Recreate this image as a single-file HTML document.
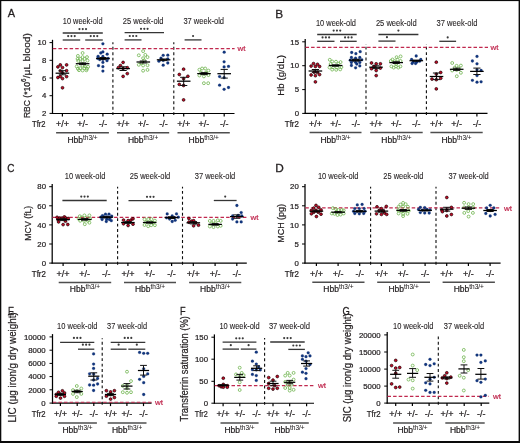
<!DOCTYPE html>
<html><head><meta charset="utf-8"><style>
html,body{margin:0;padding:0;background:#fff;}
body{width:520px;height:443px;overflow:hidden;position:relative;}
svg{position:absolute;left:0;top:0;font-family:"Liberation Sans", sans-serif;will-change:transform;}
text{stroke-width:0.22px;}
</style></head><body>
<svg width="520" height="443" viewBox="0 0 520 443">
<rect x="0" y="0" width="520" height="443" fill="#fff"/>
<line x1="52.50" y1="39.80" x2="52.50" y2="114.00" stroke="#000" stroke-width="1.25"/>
<line x1="49.50" y1="42.60" x2="52.50" y2="42.60" stroke="#000" stroke-width="1.0"/>
<text x="46.30" y="45.30" font-size="7.8" text-anchor="end" fill="#231f20" stroke="#231f20">10</text>
<line x1="49.50" y1="60.30" x2="52.50" y2="60.30" stroke="#000" stroke-width="1.0"/>
<text x="46.30" y="63.00" font-size="7.8" text-anchor="end" fill="#231f20" stroke="#231f20">8</text>
<line x1="49.50" y1="78.00" x2="52.50" y2="78.00" stroke="#000" stroke-width="1.0"/>
<text x="46.30" y="80.70" font-size="7.8" text-anchor="end" fill="#231f20" stroke="#231f20">6</text>
<line x1="49.50" y1="95.70" x2="52.50" y2="95.70" stroke="#000" stroke-width="1.0"/>
<text x="46.30" y="98.40" font-size="7.8" text-anchor="end" fill="#231f20" stroke="#231f20">4</text>
<line x1="49.50" y1="113.40" x2="52.50" y2="113.40" stroke="#000" stroke-width="1.0"/>
<text x="46.30" y="116.10" font-size="7.8" text-anchor="end" fill="#231f20" stroke="#231f20">2</text>
<line x1="51.90" y1="113.50" x2="234.50" y2="113.50" stroke="#000" stroke-width="1.15"/>
<line x1="62.40" y1="113.50" x2="62.40" y2="116.50" stroke="#000" stroke-width="1.2"/>
<line x1="82.60" y1="113.50" x2="82.60" y2="116.50" stroke="#000" stroke-width="1.2"/>
<line x1="102.90" y1="113.50" x2="102.90" y2="116.50" stroke="#000" stroke-width="1.2"/>
<line x1="123.10" y1="113.50" x2="123.10" y2="116.50" stroke="#000" stroke-width="1.2"/>
<line x1="143.30" y1="113.50" x2="143.30" y2="116.50" stroke="#000" stroke-width="1.2"/>
<line x1="163.60" y1="113.50" x2="163.60" y2="116.50" stroke="#000" stroke-width="1.2"/>
<line x1="183.70" y1="113.50" x2="183.70" y2="116.50" stroke="#000" stroke-width="1.2"/>
<line x1="204.00" y1="113.50" x2="204.00" y2="116.50" stroke="#000" stroke-width="1.2"/>
<line x1="224.20" y1="113.50" x2="224.20" y2="116.50" stroke="#000" stroke-width="1.2"/>
<line x1="112.90" y1="115.10" x2="112.90" y2="42.30" stroke="#0c0c0c" stroke-width="1.1" stroke-dasharray="2.9,2.55"/>
<line x1="173.80" y1="115.10" x2="173.80" y2="42.30" stroke="#0c0c0c" stroke-width="1.1" stroke-dasharray="2.9,2.55"/>
<line x1="52.80" y1="48.60" x2="234.60" y2="48.60" stroke="#c0284e" stroke-width="1.1" stroke-dasharray="3.5,2.1"/>
<text x="237.50" y="51.20" font-size="8.0" fill="#c0284e" stroke="#c0284e">wt</text>
<text x="62.80" y="24.00" font-size="8.8" textLength="39.80" lengthAdjust="spacingAndGlyphs" fill="#231f20" stroke="#231f20" style="stroke-width:0.1px">10 week-old</text>
<text x="122.70" y="24.00" font-size="8.8" textLength="40.80" lengthAdjust="spacingAndGlyphs" fill="#231f20" stroke="#231f20" style="stroke-width:0.1px">25 week-old</text>
<text x="183.40" y="24.00" font-size="8.8" textLength="40.60" lengthAdjust="spacingAndGlyphs" fill="#231f20" stroke="#231f20" style="stroke-width:0.1px">37 week-old</text>
<line x1="62.70" y1="33.00" x2="102.80" y2="33.00" stroke="#353535" stroke-width="1.3"/>
<circle cx="79.47" cy="29.10" r="1.08" fill="#3a3a3a"/>
<circle cx="82.75" cy="29.10" r="1.08" fill="#3a3a3a"/>
<circle cx="86.03" cy="29.10" r="1.08" fill="#3a3a3a"/>
<line x1="62.70" y1="40.00" x2="80.20" y2="40.00" stroke="#353535" stroke-width="1.3"/>
<circle cx="68.17" cy="36.10" r="1.08" fill="#3a3a3a"/>
<circle cx="71.45" cy="36.10" r="1.08" fill="#3a3a3a"/>
<circle cx="74.73" cy="36.10" r="1.08" fill="#3a3a3a"/>
<line x1="85.20" y1="40.00" x2="102.80" y2="40.00" stroke="#353535" stroke-width="1.3"/>
<circle cx="90.72" cy="36.10" r="1.08" fill="#3a3a3a"/>
<circle cx="94.00" cy="36.10" r="1.08" fill="#3a3a3a"/>
<circle cx="97.28" cy="36.10" r="1.08" fill="#3a3a3a"/>
<line x1="124.60" y1="32.70" x2="164.00" y2="32.70" stroke="#353535" stroke-width="1.3"/>
<circle cx="141.02" cy="28.80" r="1.08" fill="#3a3a3a"/>
<circle cx="144.30" cy="28.80" r="1.08" fill="#3a3a3a"/>
<circle cx="147.58" cy="28.80" r="1.08" fill="#3a3a3a"/>
<line x1="124.60" y1="39.90" x2="141.50" y2="39.90" stroke="#353535" stroke-width="1.3"/>
<circle cx="129.77" cy="36.00" r="1.08" fill="#3a3a3a"/>
<circle cx="133.05" cy="36.00" r="1.08" fill="#3a3a3a"/>
<circle cx="136.33" cy="36.00" r="1.08" fill="#3a3a3a"/>
<line x1="184.60" y1="39.90" x2="201.50" y2="39.90" stroke="#353535" stroke-width="1.3"/>
<circle cx="193.05" cy="36.00" r="1.08" fill="#3a3a3a"/>
<text x="7.70" y="17.30" font-size="11.8" textLength="7.30" lengthAdjust="spacingAndGlyphs" fill="#231f20" stroke="#231f20" style="stroke-width:0.3px">A</text>
<text x="32.10" y="126.80" font-size="8.3" textLength="13.50" lengthAdjust="spacingAndGlyphs" fill="#231f20" stroke="#231f20">Tfr2</text>
<text x="62.40" y="126.80" font-size="9.0" text-anchor="middle" fill="#231f20" stroke="#231f20">+/+</text>
<text x="82.60" y="126.80" font-size="9.0" text-anchor="middle" fill="#231f20" stroke="#231f20">+/-</text>
<text x="102.90" y="126.80" font-size="9.0" text-anchor="middle" fill="#231f20" stroke="#231f20">-/-</text>
<text x="123.10" y="126.80" font-size="9.0" text-anchor="middle" fill="#231f20" stroke="#231f20">+/+</text>
<text x="143.30" y="126.80" font-size="9.0" text-anchor="middle" fill="#231f20" stroke="#231f20">+/-</text>
<text x="163.60" y="126.80" font-size="9.0" text-anchor="middle" fill="#231f20" stroke="#231f20">-/-</text>
<text x="183.70" y="126.80" font-size="9.0" text-anchor="middle" fill="#231f20" stroke="#231f20">+/+</text>
<text x="204.00" y="126.80" font-size="9.0" text-anchor="middle" fill="#231f20" stroke="#231f20">+/-</text>
<text x="224.20" y="126.80" font-size="9.0" text-anchor="middle" fill="#231f20" stroke="#231f20">-/-</text>
<line x1="56.10" y1="132.70" x2="108.90" y2="132.70" stroke="#4e4e4e" stroke-width="1.5"/>
<text x="82.50" y="142.70" font-size="8.5" text-anchor="middle" fill="#231f20" stroke="#231f20">Hbb<tspan font-size="6.5" dy="-3.0" style="stroke-width:0.05px">th3/+</tspan></text>
<line x1="117.00" y1="132.70" x2="169.20" y2="132.70" stroke="#4e4e4e" stroke-width="1.5"/>
<text x="143.10" y="142.70" font-size="8.5" text-anchor="middle" fill="#231f20" stroke="#231f20">Hbb<tspan font-size="6.5" dy="-3.0" style="stroke-width:0.05px">th3/+</tspan></text>
<line x1="177.50" y1="132.70" x2="229.80" y2="132.70" stroke="#4e4e4e" stroke-width="1.5"/>
<text x="203.65" y="142.70" font-size="8.5" text-anchor="middle" fill="#231f20" stroke="#231f20">Hbb<tspan font-size="6.5" dy="-3.0" style="stroke-width:0.05px">th3/+</tspan></text>
<g transform="translate(30.00 118.10) rotate(-90)"><text x="0" y="0.00" font-size="9.6" fill="#231f20" stroke="#231f20" textLength="36.10" lengthAdjust="spacingAndGlyphs">RBC (*10</text></g>
<g transform="translate(30.00 81.90) rotate(-90)"><text x="0" y="-3.60" font-size="6.8" fill="#231f20" stroke="#231f20" textLength="3.50" lengthAdjust="spacingAndGlyphs">6</text></g>
<g transform="translate(30.00 78.30) rotate(-90)"><text x="0" y="0.00" font-size="9.6" fill="#231f20" stroke="#231f20" textLength="45.20" lengthAdjust="spacingAndGlyphs">/μL blood)</text></g>
<circle cx="60.30" cy="64.90" r="1.4" fill="#c40a26" stroke="#1a0003" stroke-width="0.7"/>
<circle cx="57.90" cy="66.90" r="1.4" fill="#c40a26" stroke="#1a0003" stroke-width="0.7"/>
<circle cx="62.50" cy="67.60" r="1.4" fill="#c40a26" stroke="#1a0003" stroke-width="0.7"/>
<circle cx="66.60" cy="64.90" r="1.4" fill="#c40a26" stroke="#1a0003" stroke-width="0.7"/>
<circle cx="66.60" cy="70.70" r="1.4" fill="#c40a26" stroke="#1a0003" stroke-width="0.7"/>
<circle cx="62.50" cy="72.80" r="1.4" fill="#c40a26" stroke="#1a0003" stroke-width="0.7"/>
<circle cx="60.30" cy="70.80" r="1.4" fill="#c40a26" stroke="#1a0003" stroke-width="0.7"/>
<circle cx="57.90" cy="77.50" r="1.4" fill="#c40a26" stroke="#1a0003" stroke-width="0.7"/>
<circle cx="60.30" cy="76.50" r="1.4" fill="#c40a26" stroke="#1a0003" stroke-width="0.7"/>
<circle cx="62.50" cy="78.60" r="1.4" fill="#c40a26" stroke="#1a0003" stroke-width="0.7"/>
<circle cx="66.60" cy="76.60" r="1.4" fill="#c40a26" stroke="#1a0003" stroke-width="0.7"/>
<circle cx="62.50" cy="87.80" r="1.4" fill="#c40a26" stroke="#1a0003" stroke-width="0.7"/>
<line x1="62.40" y1="70.70" x2="62.40" y2="74.80" stroke="#111" stroke-width="1.0"/>
<line x1="58.80" y1="70.70" x2="66.00" y2="70.70" stroke="#111" stroke-width="1.0"/>
<line x1="58.80" y1="74.80" x2="66.00" y2="74.80" stroke="#111" stroke-width="1.0"/>
<line x1="55.60" y1="73.20" x2="69.20" y2="73.20" stroke="#000" stroke-width="1.25"/>
<circle cx="82.60" cy="53.00" r="1.45" fill="none" stroke="#6fb44e" stroke-width="0.8"/>
<circle cx="77.90" cy="55.90" r="1.45" fill="none" stroke="#6fb44e" stroke-width="0.8"/>
<circle cx="82.60" cy="57.10" r="1.45" fill="none" stroke="#6fb44e" stroke-width="0.8"/>
<circle cx="87.00" cy="57.10" r="1.45" fill="none" stroke="#6fb44e" stroke-width="0.8"/>
<circle cx="77.60" cy="58.90" r="1.45" fill="none" stroke="#6fb44e" stroke-width="0.8"/>
<circle cx="80.20" cy="58.90" r="1.45" fill="none" stroke="#6fb44e" stroke-width="0.8"/>
<circle cx="84.60" cy="58.90" r="1.45" fill="none" stroke="#6fb44e" stroke-width="0.8"/>
<circle cx="87.50" cy="60.60" r="1.45" fill="none" stroke="#6fb44e" stroke-width="0.8"/>
<circle cx="78.20" cy="60.90" r="1.45" fill="none" stroke="#6fb44e" stroke-width="0.8"/>
<circle cx="82.60" cy="61.20" r="1.45" fill="none" stroke="#6fb44e" stroke-width="0.8"/>
<circle cx="76.70" cy="66.50" r="1.45" fill="none" stroke="#6fb44e" stroke-width="0.8"/>
<circle cx="82.60" cy="65.60" r="1.45" fill="none" stroke="#6fb44e" stroke-width="0.8"/>
<circle cx="84.90" cy="66.20" r="1.45" fill="none" stroke="#6fb44e" stroke-width="0.8"/>
<circle cx="88.10" cy="66.80" r="1.45" fill="none" stroke="#6fb44e" stroke-width="0.8"/>
<circle cx="77.90" cy="68.80" r="1.45" fill="none" stroke="#6fb44e" stroke-width="0.8"/>
<circle cx="80.20" cy="68.20" r="1.45" fill="none" stroke="#6fb44e" stroke-width="0.8"/>
<circle cx="84.30" cy="68.20" r="1.45" fill="none" stroke="#6fb44e" stroke-width="0.8"/>
<circle cx="87.00" cy="68.80" r="1.45" fill="none" stroke="#6fb44e" stroke-width="0.8"/>
<circle cx="79.00" cy="70.20" r="1.45" fill="none" stroke="#6fb44e" stroke-width="0.8"/>
<circle cx="82.60" cy="70.50" r="1.45" fill="none" stroke="#6fb44e" stroke-width="0.8"/>
<circle cx="86.40" cy="70.30" r="1.45" fill="none" stroke="#6fb44e" stroke-width="0.8"/>
<line x1="82.60" y1="62.90" x2="82.60" y2="64.60" stroke="#111" stroke-width="1.0"/>
<line x1="79.00" y1="62.90" x2="86.20" y2="62.90" stroke="#111" stroke-width="1.0"/>
<line x1="79.00" y1="64.60" x2="86.20" y2="64.60" stroke="#111" stroke-width="1.0"/>
<line x1="75.80" y1="63.70" x2="89.40" y2="63.70" stroke="#000" stroke-width="1.25"/>
<circle cx="102.90" cy="43.80" r="1.4" fill="#123780" stroke="#0d2a66" stroke-width="0.25"/>
<circle cx="100.80" cy="53.00" r="1.4" fill="#123780" stroke="#0d2a66" stroke-width="0.25"/>
<circle cx="102.90" cy="51.90" r="1.4" fill="#123780" stroke="#0d2a66" stroke-width="0.25"/>
<circle cx="107.20" cy="54.20" r="1.4" fill="#123780" stroke="#0d2a66" stroke-width="0.25"/>
<circle cx="98.10" cy="56.30" r="1.4" fill="#123780" stroke="#0d2a66" stroke-width="0.25"/>
<circle cx="102.90" cy="56.50" r="1.4" fill="#123780" stroke="#0d2a66" stroke-width="0.25"/>
<circle cx="97.80" cy="58.40" r="1.4" fill="#123780" stroke="#0d2a66" stroke-width="0.25"/>
<circle cx="108.10" cy="58.40" r="1.4" fill="#123780" stroke="#0d2a66" stroke-width="0.25"/>
<circle cx="99.70" cy="59.60" r="1.4" fill="#123780" stroke="#0d2a66" stroke-width="0.25"/>
<circle cx="102.90" cy="59.30" r="1.4" fill="#123780" stroke="#0d2a66" stroke-width="0.25"/>
<circle cx="107.00" cy="60.70" r="1.4" fill="#123780" stroke="#0d2a66" stroke-width="0.25"/>
<circle cx="102.90" cy="62.40" r="1.4" fill="#123780" stroke="#0d2a66" stroke-width="0.25"/>
<circle cx="98.50" cy="65.70" r="1.4" fill="#123780" stroke="#0d2a66" stroke-width="0.25"/>
<circle cx="102.90" cy="66.70" r="1.4" fill="#123780" stroke="#0d2a66" stroke-width="0.25"/>
<circle cx="102.90" cy="71.10" r="1.4" fill="#123780" stroke="#0d2a66" stroke-width="0.25"/>
<line x1="102.90" y1="57.50" x2="102.90" y2="59.60" stroke="#111" stroke-width="1.0"/>
<line x1="99.30" y1="57.50" x2="106.50" y2="57.50" stroke="#111" stroke-width="1.0"/>
<line x1="99.30" y1="59.60" x2="106.50" y2="59.60" stroke="#111" stroke-width="1.0"/>
<line x1="96.10" y1="58.50" x2="109.70" y2="58.50" stroke="#000" stroke-width="1.25"/>
<circle cx="123.10" cy="62.40" r="1.4" fill="#c40a26" stroke="#1a0003" stroke-width="0.7"/>
<circle cx="120.40" cy="65.60" r="1.4" fill="#c40a26" stroke="#1a0003" stroke-width="0.7"/>
<circle cx="118.40" cy="67.70" r="1.4" fill="#c40a26" stroke="#1a0003" stroke-width="0.7"/>
<circle cx="123.10" cy="68.40" r="1.4" fill="#c40a26" stroke="#1a0003" stroke-width="0.7"/>
<circle cx="127.30" cy="67.70" r="1.4" fill="#c40a26" stroke="#1a0003" stroke-width="0.7"/>
<circle cx="127.30" cy="73.60" r="1.4" fill="#c40a26" stroke="#1a0003" stroke-width="0.7"/>
<circle cx="123.10" cy="76.40" r="1.4" fill="#c40a26" stroke="#1a0003" stroke-width="0.7"/>
<line x1="123.10" y1="66.80" x2="123.10" y2="70.50" stroke="#111" stroke-width="1.0"/>
<line x1="119.50" y1="66.80" x2="126.70" y2="66.80" stroke="#111" stroke-width="1.0"/>
<line x1="119.50" y1="70.50" x2="126.70" y2="70.50" stroke="#111" stroke-width="1.0"/>
<line x1="116.30" y1="68.60" x2="129.90" y2="68.60" stroke="#000" stroke-width="1.25"/>
<circle cx="143.10" cy="51.10" r="1.45" fill="none" stroke="#6fb44e" stroke-width="0.8"/>
<circle cx="138.80" cy="55.30" r="1.45" fill="none" stroke="#6fb44e" stroke-width="0.8"/>
<circle cx="145.30" cy="54.90" r="1.45" fill="none" stroke="#6fb44e" stroke-width="0.8"/>
<circle cx="147.50" cy="57.10" r="1.45" fill="none" stroke="#6fb44e" stroke-width="0.8"/>
<circle cx="143.10" cy="58.20" r="1.45" fill="none" stroke="#6fb44e" stroke-width="0.8"/>
<circle cx="144.20" cy="60.40" r="1.45" fill="none" stroke="#6fb44e" stroke-width="0.8"/>
<circle cx="138.80" cy="64.80" r="1.45" fill="none" stroke="#6fb44e" stroke-width="0.8"/>
<circle cx="143.10" cy="65.50" r="1.45" fill="none" stroke="#6fb44e" stroke-width="0.8"/>
<circle cx="147.50" cy="65.20" r="1.45" fill="none" stroke="#6fb44e" stroke-width="0.8"/>
<circle cx="143.10" cy="70.70" r="1.45" fill="none" stroke="#6fb44e" stroke-width="0.8"/>
<circle cx="147.50" cy="69.90" r="1.45" fill="none" stroke="#6fb44e" stroke-width="0.8"/>
<circle cx="141.30" cy="63.20" r="1.45" fill="none" stroke="#6fb44e" stroke-width="0.8"/>
<line x1="143.30" y1="61.00" x2="143.30" y2="63.00" stroke="#111" stroke-width="1.0"/>
<line x1="139.70" y1="61.00" x2="146.90" y2="61.00" stroke="#111" stroke-width="1.0"/>
<line x1="139.70" y1="63.00" x2="146.90" y2="63.00" stroke="#111" stroke-width="1.0"/>
<line x1="136.50" y1="62.00" x2="150.10" y2="62.00" stroke="#000" stroke-width="1.25"/>
<circle cx="163.20" cy="55.30" r="1.4" fill="#123780" stroke="#0d2a66" stroke-width="0.25"/>
<circle cx="167.80" cy="55.20" r="1.4" fill="#123780" stroke="#0d2a66" stroke-width="0.25"/>
<circle cx="161.00" cy="58.20" r="1.4" fill="#123780" stroke="#0d2a66" stroke-width="0.25"/>
<circle cx="158.90" cy="61.20" r="1.4" fill="#123780" stroke="#0d2a66" stroke-width="0.25"/>
<circle cx="167.80" cy="59.00" r="1.4" fill="#123780" stroke="#0d2a66" stroke-width="0.25"/>
<circle cx="163.20" cy="60.40" r="1.4" fill="#123780" stroke="#0d2a66" stroke-width="0.25"/>
<circle cx="167.80" cy="63.00" r="1.4" fill="#123780" stroke="#0d2a66" stroke-width="0.25"/>
<circle cx="163.20" cy="65.20" r="1.4" fill="#123780" stroke="#0d2a66" stroke-width="0.25"/>
<line x1="163.60" y1="59.00" x2="163.60" y2="60.60" stroke="#111" stroke-width="1.0"/>
<line x1="160.00" y1="59.00" x2="167.20" y2="59.00" stroke="#111" stroke-width="1.0"/>
<line x1="160.00" y1="60.60" x2="167.20" y2="60.60" stroke="#111" stroke-width="1.0"/>
<line x1="156.80" y1="59.80" x2="170.40" y2="59.80" stroke="#000" stroke-width="1.25"/>
<circle cx="183.60" cy="69.20" r="1.4" fill="#c40a26" stroke="#1a0003" stroke-width="0.7"/>
<circle cx="179.30" cy="74.50" r="1.4" fill="#c40a26" stroke="#1a0003" stroke-width="0.7"/>
<circle cx="187.90" cy="76.30" r="1.4" fill="#c40a26" stroke="#1a0003" stroke-width="0.7"/>
<circle cx="183.60" cy="78.70" r="1.4" fill="#c40a26" stroke="#1a0003" stroke-width="0.7"/>
<circle cx="179.30" cy="84.40" r="1.4" fill="#c40a26" stroke="#1a0003" stroke-width="0.7"/>
<circle cx="183.60" cy="85.50" r="1.4" fill="#c40a26" stroke="#1a0003" stroke-width="0.7"/>
<circle cx="183.60" cy="99.90" r="1.4" fill="#c40a26" stroke="#1a0003" stroke-width="0.7"/>
<line x1="183.70" y1="77.30" x2="183.70" y2="85.50" stroke="#111" stroke-width="1.0"/>
<line x1="180.10" y1="77.30" x2="187.30" y2="77.30" stroke="#111" stroke-width="1.0"/>
<line x1="180.10" y1="85.50" x2="187.30" y2="85.50" stroke="#111" stroke-width="1.0"/>
<line x1="176.90" y1="81.20" x2="190.50" y2="81.20" stroke="#000" stroke-width="1.25"/>
<circle cx="199.40" cy="69.70" r="1.45" fill="none" stroke="#6fb44e" stroke-width="0.8"/>
<circle cx="202.10" cy="68.50" r="1.45" fill="none" stroke="#6fb44e" stroke-width="0.8"/>
<circle cx="205.20" cy="68.50" r="1.45" fill="none" stroke="#6fb44e" stroke-width="0.8"/>
<circle cx="208.40" cy="70.60" r="1.45" fill="none" stroke="#6fb44e" stroke-width="0.8"/>
<circle cx="199.40" cy="75.50" r="1.45" fill="none" stroke="#6fb44e" stroke-width="0.8"/>
<circle cx="203.90" cy="76.40" r="1.45" fill="none" stroke="#6fb44e" stroke-width="0.8"/>
<circle cx="208.40" cy="75.10" r="1.45" fill="none" stroke="#6fb44e" stroke-width="0.8"/>
<circle cx="201.00" cy="72.50" r="1.45" fill="none" stroke="#6fb44e" stroke-width="0.8"/>
<circle cx="206.00" cy="72.50" r="1.45" fill="none" stroke="#6fb44e" stroke-width="0.8"/>
<circle cx="203.90" cy="83.20" r="1.45" fill="none" stroke="#6fb44e" stroke-width="0.8"/>
<circle cx="208.20" cy="83.20" r="1.45" fill="none" stroke="#6fb44e" stroke-width="0.8"/>
<line x1="204.00" y1="72.60" x2="204.00" y2="74.60" stroke="#111" stroke-width="1.0"/>
<line x1="200.40" y1="72.60" x2="207.60" y2="72.60" stroke="#111" stroke-width="1.0"/>
<line x1="200.40" y1="74.60" x2="207.60" y2="74.60" stroke="#111" stroke-width="1.0"/>
<line x1="197.20" y1="73.60" x2="210.80" y2="73.60" stroke="#000" stroke-width="1.25"/>
<circle cx="224.20" cy="52.20" r="1.4" fill="#123780" stroke="#0d2a66" stroke-width="0.25"/>
<circle cx="224.10" cy="61.80" r="1.4" fill="#123780" stroke="#0d2a66" stroke-width="0.25"/>
<circle cx="224.10" cy="66.90" r="1.4" fill="#123780" stroke="#0d2a66" stroke-width="0.25"/>
<circle cx="228.50" cy="66.40" r="1.4" fill="#123780" stroke="#0d2a66" stroke-width="0.25"/>
<circle cx="219.60" cy="76.60" r="1.4" fill="#123780" stroke="#0d2a66" stroke-width="0.25"/>
<circle cx="224.10" cy="77.70" r="1.4" fill="#123780" stroke="#0d2a66" stroke-width="0.25"/>
<circle cx="219.60" cy="85.20" r="1.4" fill="#123780" stroke="#0d2a66" stroke-width="0.25"/>
<circle cx="228.50" cy="87.50" r="1.4" fill="#123780" stroke="#0d2a66" stroke-width="0.25"/>
<circle cx="224.10" cy="89.30" r="1.4" fill="#123780" stroke="#0d2a66" stroke-width="0.25"/>
<line x1="224.20" y1="69.40" x2="224.20" y2="78.10" stroke="#111" stroke-width="1.0"/>
<line x1="220.60" y1="69.40" x2="227.80" y2="69.40" stroke="#111" stroke-width="1.0"/>
<line x1="220.60" y1="78.10" x2="227.80" y2="78.10" stroke="#111" stroke-width="1.0"/>
<line x1="217.40" y1="73.70" x2="231.00" y2="73.70" stroke="#000" stroke-width="1.25"/>
<line x1="305.20" y1="39.00" x2="305.20" y2="113.90" stroke="#000" stroke-width="1.25"/>
<line x1="302.20" y1="41.80" x2="305.20" y2="41.80" stroke="#000" stroke-width="1.0"/>
<text x="299.00" y="44.50" font-size="7.8" text-anchor="end" fill="#231f20" stroke="#231f20">15</text>
<line x1="302.20" y1="65.70" x2="305.20" y2="65.70" stroke="#000" stroke-width="1.0"/>
<text x="299.00" y="68.40" font-size="7.8" text-anchor="end" fill="#231f20" stroke="#231f20">10</text>
<line x1="302.20" y1="89.60" x2="305.20" y2="89.60" stroke="#000" stroke-width="1.0"/>
<text x="299.00" y="92.30" font-size="7.8" text-anchor="end" fill="#231f20" stroke="#231f20">5</text>
<line x1="302.20" y1="113.40" x2="305.20" y2="113.40" stroke="#000" stroke-width="1.0"/>
<text x="299.00" y="116.10" font-size="7.8" text-anchor="end" fill="#231f20" stroke="#231f20">0</text>
<line x1="304.60" y1="113.40" x2="487.50" y2="113.40" stroke="#000" stroke-width="1.15"/>
<line x1="315.40" y1="113.40" x2="315.40" y2="116.40" stroke="#000" stroke-width="1.2"/>
<line x1="335.60" y1="113.40" x2="335.60" y2="116.40" stroke="#000" stroke-width="1.2"/>
<line x1="355.80" y1="113.40" x2="355.80" y2="116.40" stroke="#000" stroke-width="1.2"/>
<line x1="376.00" y1="113.40" x2="376.00" y2="116.40" stroke="#000" stroke-width="1.2"/>
<line x1="396.20" y1="113.40" x2="396.20" y2="116.40" stroke="#000" stroke-width="1.2"/>
<line x1="416.30" y1="113.40" x2="416.30" y2="116.40" stroke="#000" stroke-width="1.2"/>
<line x1="436.50" y1="113.40" x2="436.50" y2="116.40" stroke="#000" stroke-width="1.2"/>
<line x1="456.70" y1="113.40" x2="456.70" y2="116.40" stroke="#000" stroke-width="1.2"/>
<line x1="476.90" y1="113.40" x2="476.90" y2="116.40" stroke="#000" stroke-width="1.2"/>
<line x1="366.00" y1="115.00" x2="366.00" y2="44.00" stroke="#0c0c0c" stroke-width="1.1" stroke-dasharray="2.9,2.55"/>
<line x1="426.40" y1="115.00" x2="426.40" y2="44.00" stroke="#0c0c0c" stroke-width="1.1" stroke-dasharray="2.9,2.55"/>
<line x1="305.50" y1="47.40" x2="488.00" y2="47.40" stroke="#c0284e" stroke-width="1.1" stroke-dasharray="3.5,2.1"/>
<text x="490.60" y="50.00" font-size="8.0" fill="#c0284e" stroke="#c0284e">wt</text>
<text x="316.00" y="25.70" font-size="8.8" textLength="39.90" lengthAdjust="spacingAndGlyphs" fill="#231f20" stroke="#231f20" style="stroke-width:0.1px">10 week-old</text>
<text x="375.90" y="25.70" font-size="8.8" textLength="40.70" lengthAdjust="spacingAndGlyphs" fill="#231f20" stroke="#231f20" style="stroke-width:0.1px">25 week-old</text>
<text x="436.60" y="25.70" font-size="8.8" textLength="40.80" lengthAdjust="spacingAndGlyphs" fill="#231f20" stroke="#231f20" style="stroke-width:0.1px">37 week-old</text>
<line x1="317.20" y1="34.50" x2="356.70" y2="34.50" stroke="#353535" stroke-width="1.3"/>
<circle cx="333.67" cy="30.60" r="1.08" fill="#3a3a3a"/>
<circle cx="336.95" cy="30.60" r="1.08" fill="#3a3a3a"/>
<circle cx="340.23" cy="30.60" r="1.08" fill="#3a3a3a"/>
<line x1="317.20" y1="41.30" x2="334.50" y2="41.30" stroke="#353535" stroke-width="1.3"/>
<circle cx="322.57" cy="37.40" r="1.08" fill="#3a3a3a"/>
<circle cx="325.85" cy="37.40" r="1.08" fill="#3a3a3a"/>
<circle cx="329.13" cy="37.40" r="1.08" fill="#3a3a3a"/>
<line x1="340.00" y1="41.30" x2="356.70" y2="41.30" stroke="#353535" stroke-width="1.3"/>
<circle cx="345.07" cy="37.40" r="1.08" fill="#3a3a3a"/>
<circle cx="348.35" cy="37.40" r="1.08" fill="#3a3a3a"/>
<circle cx="351.63" cy="37.40" r="1.08" fill="#3a3a3a"/>
<line x1="378.40" y1="34.50" x2="418.40" y2="34.50" stroke="#353535" stroke-width="1.3"/>
<circle cx="398.40" cy="30.60" r="1.08" fill="#3a3a3a"/>
<line x1="378.40" y1="41.10" x2="395.50" y2="41.10" stroke="#353535" stroke-width="1.3"/>
<circle cx="386.95" cy="37.20" r="1.08" fill="#3a3a3a"/>
<line x1="439.30" y1="41.30" x2="456.10" y2="41.30" stroke="#353535" stroke-width="1.3"/>
<circle cx="447.70" cy="37.40" r="1.08" fill="#3a3a3a"/>
<text x="275.30" y="18.00" font-size="11.8" fill="#231f20" stroke="#231f20" style="stroke-width:0.3px">B</text>
<text x="284.80" y="126.80" font-size="8.3" textLength="14.10" lengthAdjust="spacingAndGlyphs" fill="#231f20" stroke="#231f20">Tfr2</text>
<text x="315.40" y="126.80" font-size="9.0" text-anchor="middle" fill="#231f20" stroke="#231f20">+/+</text>
<text x="335.60" y="126.80" font-size="9.0" text-anchor="middle" fill="#231f20" stroke="#231f20">+/-</text>
<text x="355.80" y="126.80" font-size="9.0" text-anchor="middle" fill="#231f20" stroke="#231f20">-/-</text>
<text x="376.00" y="126.80" font-size="9.0" text-anchor="middle" fill="#231f20" stroke="#231f20">+/+</text>
<text x="396.20" y="126.80" font-size="9.0" text-anchor="middle" fill="#231f20" stroke="#231f20">+/-</text>
<text x="416.30" y="126.80" font-size="9.0" text-anchor="middle" fill="#231f20" stroke="#231f20">-/-</text>
<text x="436.50" y="126.80" font-size="9.0" text-anchor="middle" fill="#231f20" stroke="#231f20">+/+</text>
<text x="456.70" y="126.80" font-size="9.0" text-anchor="middle" fill="#231f20" stroke="#231f20">+/-</text>
<text x="476.90" y="126.80" font-size="9.0" text-anchor="middle" fill="#231f20" stroke="#231f20">-/-</text>
<line x1="309.60" y1="132.60" x2="361.50" y2="132.60" stroke="#4e4e4e" stroke-width="1.5"/>
<text x="335.55" y="142.60" font-size="8.5" text-anchor="middle" fill="#231f20" stroke="#231f20">Hbb<tspan font-size="6.5" dy="-3.0" style="stroke-width:0.05px">th3/+</tspan></text>
<line x1="370.20" y1="132.60" x2="422.70" y2="132.60" stroke="#4e4e4e" stroke-width="1.5"/>
<text x="396.45" y="142.60" font-size="8.5" text-anchor="middle" fill="#231f20" stroke="#231f20">Hbb<tspan font-size="6.5" dy="-3.0" style="stroke-width:0.05px">th3/+</tspan></text>
<line x1="430.40" y1="132.60" x2="482.70" y2="132.60" stroke="#4e4e4e" stroke-width="1.5"/>
<text x="456.55" y="142.60" font-size="8.5" text-anchor="middle" fill="#231f20" stroke="#231f20">Hbb<tspan font-size="6.5" dy="-3.0" style="stroke-width:0.05px">th3/+</tspan></text>
<text x="284.00" y="75.45" font-size="9.8" text-anchor="middle" fill="#231f20" stroke="#231f20" transform="rotate(-90 284.00 75.45)" textLength="40.70" lengthAdjust="spacingAndGlyphs">Hb (g/dL)</text>
<circle cx="313.50" cy="63.60" r="1.4" fill="#c40a26" stroke="#1a0003" stroke-width="0.7"/>
<circle cx="317.50" cy="64.30" r="1.4" fill="#c40a26" stroke="#1a0003" stroke-width="0.7"/>
<circle cx="311.10" cy="66.10" r="1.4" fill="#c40a26" stroke="#1a0003" stroke-width="0.7"/>
<circle cx="315.40" cy="66.50" r="1.4" fill="#c40a26" stroke="#1a0003" stroke-width="0.7"/>
<circle cx="319.60" cy="66.50" r="1.4" fill="#c40a26" stroke="#1a0003" stroke-width="0.7"/>
<circle cx="314.20" cy="72.20" r="1.4" fill="#c40a26" stroke="#1a0003" stroke-width="0.7"/>
<circle cx="317.50" cy="72.40" r="1.4" fill="#c40a26" stroke="#1a0003" stroke-width="0.7"/>
<circle cx="311.10" cy="75.00" r="1.4" fill="#c40a26" stroke="#1a0003" stroke-width="0.7"/>
<circle cx="315.40" cy="75.70" r="1.4" fill="#c40a26" stroke="#1a0003" stroke-width="0.7"/>
<circle cx="319.60" cy="74.60" r="1.4" fill="#c40a26" stroke="#1a0003" stroke-width="0.7"/>
<circle cx="315.40" cy="81.90" r="1.4" fill="#c40a26" stroke="#1a0003" stroke-width="0.7"/>
<line x1="315.40" y1="69.50" x2="315.40" y2="72.30" stroke="#111" stroke-width="1.0"/>
<line x1="311.80" y1="69.50" x2="319.00" y2="69.50" stroke="#111" stroke-width="1.0"/>
<line x1="311.80" y1="72.30" x2="319.00" y2="72.30" stroke="#111" stroke-width="1.0"/>
<line x1="308.60" y1="71.00" x2="322.20" y2="71.00" stroke="#000" stroke-width="1.25"/>
<circle cx="329.80" cy="59.80" r="1.45" fill="none" stroke="#6fb44e" stroke-width="0.8"/>
<circle cx="332.20" cy="61.50" r="1.45" fill="none" stroke="#6fb44e" stroke-width="0.8"/>
<circle cx="336.00" cy="61.70" r="1.45" fill="none" stroke="#6fb44e" stroke-width="0.8"/>
<circle cx="340.60" cy="62.10" r="1.45" fill="none" stroke="#6fb44e" stroke-width="0.8"/>
<circle cx="330.60" cy="64.00" r="1.45" fill="none" stroke="#6fb44e" stroke-width="0.8"/>
<circle cx="338.50" cy="63.80" r="1.45" fill="none" stroke="#6fb44e" stroke-width="0.8"/>
<circle cx="329.50" cy="67.50" r="1.45" fill="none" stroke="#6fb44e" stroke-width="0.8"/>
<circle cx="333.00" cy="67.30" r="1.45" fill="none" stroke="#6fb44e" stroke-width="0.8"/>
<circle cx="337.00" cy="67.50" r="1.45" fill="none" stroke="#6fb44e" stroke-width="0.8"/>
<circle cx="341.40" cy="67.10" r="1.45" fill="none" stroke="#6fb44e" stroke-width="0.8"/>
<circle cx="332.20" cy="69.60" r="1.45" fill="none" stroke="#6fb44e" stroke-width="0.8"/>
<circle cx="336.20" cy="69.80" r="1.45" fill="none" stroke="#6fb44e" stroke-width="0.8"/>
<circle cx="340.20" cy="69.40" r="1.45" fill="none" stroke="#6fb44e" stroke-width="0.8"/>
<line x1="335.60" y1="64.80" x2="335.60" y2="66.20" stroke="#111" stroke-width="1.0"/>
<line x1="332.00" y1="64.80" x2="339.20" y2="64.80" stroke="#111" stroke-width="1.0"/>
<line x1="332.00" y1="66.20" x2="339.20" y2="66.20" stroke="#111" stroke-width="1.0"/>
<line x1="328.80" y1="65.50" x2="342.40" y2="65.50" stroke="#000" stroke-width="1.25"/>
<circle cx="351.70" cy="52.50" r="1.4" fill="#123780" stroke="#0d2a66" stroke-width="0.25"/>
<circle cx="355.90" cy="53.70" r="1.4" fill="#123780" stroke="#0d2a66" stroke-width="0.25"/>
<circle cx="360.20" cy="51.70" r="1.4" fill="#123780" stroke="#0d2a66" stroke-width="0.25"/>
<circle cx="351.40" cy="57.50" r="1.4" fill="#123780" stroke="#0d2a66" stroke-width="0.25"/>
<circle cx="355.60" cy="58.20" r="1.4" fill="#123780" stroke="#0d2a66" stroke-width="0.25"/>
<circle cx="359.80" cy="57.50" r="1.4" fill="#123780" stroke="#0d2a66" stroke-width="0.25"/>
<circle cx="350.20" cy="60.20" r="1.4" fill="#123780" stroke="#0d2a66" stroke-width="0.25"/>
<circle cx="353.20" cy="60.20" r="1.4" fill="#123780" stroke="#0d2a66" stroke-width="0.25"/>
<circle cx="358.30" cy="60.20" r="1.4" fill="#123780" stroke="#0d2a66" stroke-width="0.25"/>
<circle cx="361.80" cy="59.80" r="1.4" fill="#123780" stroke="#0d2a66" stroke-width="0.25"/>
<circle cx="351.40" cy="62.50" r="1.4" fill="#123780" stroke="#0d2a66" stroke-width="0.25"/>
<circle cx="355.60" cy="62.30" r="1.4" fill="#123780" stroke="#0d2a66" stroke-width="0.25"/>
<circle cx="359.80" cy="62.50" r="1.4" fill="#123780" stroke="#0d2a66" stroke-width="0.25"/>
<circle cx="351.40" cy="65.50" r="1.4" fill="#123780" stroke="#0d2a66" stroke-width="0.25"/>
<circle cx="359.80" cy="65.90" r="1.4" fill="#123780" stroke="#0d2a66" stroke-width="0.25"/>
<circle cx="355.60" cy="67.80" r="1.4" fill="#123780" stroke="#0d2a66" stroke-width="0.25"/>
<circle cx="356.80" cy="64.00" r="1.4" fill="#123780" stroke="#0d2a66" stroke-width="0.25"/>
<line x1="355.80" y1="59.30" x2="355.80" y2="61.10" stroke="#111" stroke-width="1.0"/>
<line x1="352.20" y1="59.30" x2="359.40" y2="59.30" stroke="#111" stroke-width="1.0"/>
<line x1="352.20" y1="61.10" x2="359.40" y2="61.10" stroke="#111" stroke-width="1.0"/>
<line x1="349.00" y1="60.20" x2="362.60" y2="60.20" stroke="#000" stroke-width="1.25"/>
<circle cx="371.50" cy="63.00" r="1.4" fill="#c40a26" stroke="#1a0003" stroke-width="0.7"/>
<circle cx="376.20" cy="63.80" r="1.4" fill="#c40a26" stroke="#1a0003" stroke-width="0.7"/>
<circle cx="380.40" cy="63.80" r="1.4" fill="#c40a26" stroke="#1a0003" stroke-width="0.7"/>
<circle cx="371.50" cy="68.70" r="1.4" fill="#c40a26" stroke="#1a0003" stroke-width="0.7"/>
<circle cx="376.20" cy="70.50" r="1.4" fill="#c40a26" stroke="#1a0003" stroke-width="0.7"/>
<circle cx="380.40" cy="68.10" r="1.4" fill="#c40a26" stroke="#1a0003" stroke-width="0.7"/>
<circle cx="376.20" cy="75.60" r="1.4" fill="#c40a26" stroke="#1a0003" stroke-width="0.7"/>
<circle cx="374.00" cy="66.40" r="1.4" fill="#c40a26" stroke="#1a0003" stroke-width="0.7"/>
<line x1="376.00" y1="65.80" x2="376.00" y2="68.60" stroke="#111" stroke-width="1.0"/>
<line x1="372.40" y1="65.80" x2="379.60" y2="65.80" stroke="#111" stroke-width="1.0"/>
<line x1="372.40" y1="68.60" x2="379.60" y2="68.60" stroke="#111" stroke-width="1.0"/>
<line x1="369.20" y1="67.20" x2="382.80" y2="67.20" stroke="#000" stroke-width="1.25"/>
<circle cx="400.60" cy="56.40" r="1.45" fill="none" stroke="#6fb44e" stroke-width="0.8"/>
<circle cx="396.60" cy="57.20" r="1.45" fill="none" stroke="#6fb44e" stroke-width="0.8"/>
<circle cx="392.50" cy="59.50" r="1.45" fill="none" stroke="#6fb44e" stroke-width="0.8"/>
<circle cx="397.50" cy="59.50" r="1.45" fill="none" stroke="#6fb44e" stroke-width="0.8"/>
<circle cx="390.80" cy="61.00" r="1.45" fill="none" stroke="#6fb44e" stroke-width="0.8"/>
<circle cx="394.50" cy="61.30" r="1.45" fill="none" stroke="#6fb44e" stroke-width="0.8"/>
<circle cx="400.60" cy="61.00" r="1.45" fill="none" stroke="#6fb44e" stroke-width="0.8"/>
<circle cx="391.40" cy="66.40" r="1.45" fill="none" stroke="#6fb44e" stroke-width="0.8"/>
<circle cx="396.00" cy="66.40" r="1.45" fill="none" stroke="#6fb44e" stroke-width="0.8"/>
<circle cx="400.40" cy="66.40" r="1.45" fill="none" stroke="#6fb44e" stroke-width="0.8"/>
<circle cx="393.70" cy="67.60" r="1.45" fill="none" stroke="#6fb44e" stroke-width="0.8"/>
<circle cx="398.30" cy="67.60" r="1.45" fill="none" stroke="#6fb44e" stroke-width="0.8"/>
<circle cx="396.20" cy="64.00" r="1.45" fill="none" stroke="#6fb44e" stroke-width="0.8"/>
<line x1="396.20" y1="61.70" x2="396.20" y2="63.50" stroke="#111" stroke-width="1.0"/>
<line x1="392.60" y1="61.70" x2="399.80" y2="61.70" stroke="#111" stroke-width="1.0"/>
<line x1="392.60" y1="63.50" x2="399.80" y2="63.50" stroke="#111" stroke-width="1.0"/>
<line x1="389.40" y1="62.60" x2="403.00" y2="62.60" stroke="#000" stroke-width="1.25"/>
<circle cx="416.20" cy="56.00" r="1.4" fill="#123780" stroke="#0d2a66" stroke-width="0.25"/>
<circle cx="411.60" cy="59.50" r="1.4" fill="#123780" stroke="#0d2a66" stroke-width="0.25"/>
<circle cx="420.80" cy="59.50" r="1.4" fill="#123780" stroke="#0d2a66" stroke-width="0.25"/>
<circle cx="413.30" cy="61.80" r="1.4" fill="#123780" stroke="#0d2a66" stroke-width="0.25"/>
<circle cx="416.80" cy="62.00" r="1.4" fill="#123780" stroke="#0d2a66" stroke-width="0.25"/>
<circle cx="419.60" cy="61.20" r="1.4" fill="#123780" stroke="#0d2a66" stroke-width="0.25"/>
<circle cx="412.10" cy="63.50" r="1.4" fill="#123780" stroke="#0d2a66" stroke-width="0.25"/>
<circle cx="415.60" cy="63.50" r="1.4" fill="#123780" stroke="#0d2a66" stroke-width="0.25"/>
<line x1="416.30" y1="60.10" x2="416.30" y2="61.30" stroke="#111" stroke-width="1.0"/>
<line x1="412.70" y1="60.10" x2="419.90" y2="60.10" stroke="#111" stroke-width="1.0"/>
<line x1="412.70" y1="61.30" x2="419.90" y2="61.30" stroke="#111" stroke-width="1.0"/>
<line x1="409.50" y1="60.70" x2="423.10" y2="60.70" stroke="#000" stroke-width="1.25"/>
<circle cx="436.30" cy="62.20" r="1.4" fill="#c40a26" stroke="#1a0003" stroke-width="0.7"/>
<circle cx="440.70" cy="72.50" r="1.4" fill="#c40a26" stroke="#1a0003" stroke-width="0.7"/>
<circle cx="436.30" cy="74.10" r="1.4" fill="#c40a26" stroke="#1a0003" stroke-width="0.7"/>
<circle cx="432.00" cy="79.10" r="1.4" fill="#c40a26" stroke="#1a0003" stroke-width="0.7"/>
<circle cx="436.30" cy="79.70" r="1.4" fill="#c40a26" stroke="#1a0003" stroke-width="0.7"/>
<circle cx="440.70" cy="78.30" r="1.4" fill="#c40a26" stroke="#1a0003" stroke-width="0.7"/>
<circle cx="436.30" cy="88.90" r="1.4" fill="#c40a26" stroke="#1a0003" stroke-width="0.7"/>
<line x1="436.50" y1="73.00" x2="436.50" y2="79.60" stroke="#111" stroke-width="1.0"/>
<line x1="432.90" y1="73.00" x2="440.10" y2="73.00" stroke="#111" stroke-width="1.0"/>
<line x1="432.90" y1="79.60" x2="440.10" y2="79.60" stroke="#111" stroke-width="1.0"/>
<line x1="429.70" y1="76.50" x2="443.30" y2="76.50" stroke="#000" stroke-width="1.25"/>
<circle cx="452.20" cy="63.00" r="1.45" fill="none" stroke="#6fb44e" stroke-width="0.8"/>
<circle cx="456.60" cy="65.80" r="1.45" fill="none" stroke="#6fb44e" stroke-width="0.8"/>
<circle cx="460.90" cy="65.60" r="1.45" fill="none" stroke="#6fb44e" stroke-width="0.8"/>
<circle cx="452.20" cy="70.50" r="1.45" fill="none" stroke="#6fb44e" stroke-width="0.8"/>
<circle cx="456.60" cy="70.00" r="1.45" fill="none" stroke="#6fb44e" stroke-width="0.8"/>
<circle cx="460.90" cy="72.80" r="1.45" fill="none" stroke="#6fb44e" stroke-width="0.8"/>
<circle cx="456.80" cy="76.20" r="1.45" fill="none" stroke="#6fb44e" stroke-width="0.8"/>
<circle cx="454.60" cy="67.80" r="1.45" fill="none" stroke="#6fb44e" stroke-width="0.8"/>
<circle cx="458.80" cy="68.40" r="1.45" fill="none" stroke="#6fb44e" stroke-width="0.8"/>
<line x1="456.70" y1="68.20" x2="456.70" y2="70.40" stroke="#111" stroke-width="1.0"/>
<line x1="453.10" y1="68.20" x2="460.30" y2="68.20" stroke="#111" stroke-width="1.0"/>
<line x1="453.10" y1="70.40" x2="460.30" y2="70.40" stroke="#111" stroke-width="1.0"/>
<line x1="449.90" y1="69.30" x2="463.50" y2="69.30" stroke="#000" stroke-width="1.25"/>
<circle cx="477.00" cy="56.40" r="1.4" fill="#123780" stroke="#0d2a66" stroke-width="0.25"/>
<circle cx="472.40" cy="61.00" r="1.4" fill="#123780" stroke="#0d2a66" stroke-width="0.25"/>
<circle cx="477.00" cy="63.80" r="1.4" fill="#123780" stroke="#0d2a66" stroke-width="0.25"/>
<circle cx="472.40" cy="80.30" r="1.4" fill="#123780" stroke="#0d2a66" stroke-width="0.25"/>
<circle cx="477.00" cy="82.20" r="1.4" fill="#123780" stroke="#0d2a66" stroke-width="0.25"/>
<circle cx="481.10" cy="81.80" r="1.4" fill="#123780" stroke="#0d2a66" stroke-width="0.25"/>
<circle cx="477.00" cy="75.60" r="1.4" fill="#123780" stroke="#0d2a66" stroke-width="0.25"/>
<circle cx="481.10" cy="70.50" r="1.4" fill="#123780" stroke="#0d2a66" stroke-width="0.25"/>
<circle cx="477.00" cy="69.80" r="1.4" fill="#123780" stroke="#0d2a66" stroke-width="0.25"/>
<line x1="476.90" y1="68.10" x2="476.90" y2="74.50" stroke="#111" stroke-width="1.0"/>
<line x1="473.30" y1="68.10" x2="480.50" y2="68.10" stroke="#111" stroke-width="1.0"/>
<line x1="473.30" y1="74.50" x2="480.50" y2="74.50" stroke="#111" stroke-width="1.0"/>
<line x1="470.10" y1="71.40" x2="483.70" y2="71.40" stroke="#000" stroke-width="1.25"/>
<line x1="52.20" y1="183.90" x2="52.20" y2="263.60" stroke="#000" stroke-width="1.25"/>
<line x1="49.20" y1="186.70" x2="52.20" y2="186.70" stroke="#000" stroke-width="1.0"/>
<text x="46.00" y="189.40" font-size="7.8" text-anchor="end" fill="#231f20" stroke="#231f20">80</text>
<line x1="49.20" y1="205.80" x2="52.20" y2="205.80" stroke="#000" stroke-width="1.0"/>
<text x="46.00" y="208.50" font-size="7.8" text-anchor="end" fill="#231f20" stroke="#231f20">60</text>
<line x1="49.20" y1="224.90" x2="52.20" y2="224.90" stroke="#000" stroke-width="1.0"/>
<text x="46.00" y="227.60" font-size="7.8" text-anchor="end" fill="#231f20" stroke="#231f20">40</text>
<line x1="49.20" y1="244.00" x2="52.20" y2="244.00" stroke="#000" stroke-width="1.0"/>
<text x="46.00" y="246.70" font-size="7.8" text-anchor="end" fill="#231f20" stroke="#231f20">20</text>
<line x1="49.20" y1="263.10" x2="52.20" y2="263.10" stroke="#000" stroke-width="1.0"/>
<text x="46.00" y="265.80" font-size="7.8" text-anchor="end" fill="#231f20" stroke="#231f20">0</text>
<line x1="51.60" y1="263.10" x2="246.80" y2="263.10" stroke="#000" stroke-width="1.15"/>
<line x1="63.10" y1="263.10" x2="63.10" y2="266.10" stroke="#000" stroke-width="1.2"/>
<line x1="84.70" y1="263.10" x2="84.70" y2="266.10" stroke="#000" stroke-width="1.2"/>
<line x1="106.30" y1="263.10" x2="106.30" y2="266.10" stroke="#000" stroke-width="1.2"/>
<line x1="127.90" y1="263.10" x2="127.90" y2="266.10" stroke="#000" stroke-width="1.2"/>
<line x1="149.70" y1="263.10" x2="149.70" y2="266.10" stroke="#000" stroke-width="1.2"/>
<line x1="171.60" y1="263.10" x2="171.60" y2="266.10" stroke="#000" stroke-width="1.2"/>
<line x1="193.30" y1="263.10" x2="193.30" y2="266.10" stroke="#000" stroke-width="1.2"/>
<line x1="215.10" y1="263.10" x2="215.10" y2="266.10" stroke="#000" stroke-width="1.2"/>
<line x1="236.80" y1="263.10" x2="236.80" y2="266.10" stroke="#000" stroke-width="1.2"/>
<line x1="117.60" y1="264.70" x2="117.60" y2="186.70" stroke="#0c0c0c" stroke-width="1.1" stroke-dasharray="2.9,2.55"/>
<line x1="182.50" y1="264.70" x2="182.50" y2="186.70" stroke="#0c0c0c" stroke-width="1.1" stroke-dasharray="2.9,2.55"/>
<line x1="52.50" y1="217.40" x2="247.70" y2="217.40" stroke="#c0284e" stroke-width="1.1" stroke-dasharray="3.5,2.1"/>
<text x="250.60" y="220.00" font-size="8.0" fill="#c0284e" stroke="#c0284e">wt</text>
<text x="64.80" y="179.30" font-size="8.8" textLength="40.60" lengthAdjust="spacingAndGlyphs" fill="#231f20" stroke="#231f20" style="stroke-width:0.1px">10 week-old</text>
<text x="129.70" y="179.30" font-size="8.8" textLength="40.60" lengthAdjust="spacingAndGlyphs" fill="#231f20" stroke="#231f20" style="stroke-width:0.1px">25 week-old</text>
<text x="194.70" y="179.30" font-size="8.8" textLength="40.60" lengthAdjust="spacingAndGlyphs" fill="#231f20" stroke="#231f20" style="stroke-width:0.1px">37 week-old</text>
<line x1="62.40" y1="200.50" x2="106.70" y2="200.50" stroke="#353535" stroke-width="1.3"/>
<circle cx="81.27" cy="196.60" r="1.08" fill="#3a3a3a"/>
<circle cx="84.55" cy="196.60" r="1.08" fill="#3a3a3a"/>
<circle cx="87.83" cy="196.60" r="1.08" fill="#3a3a3a"/>
<line x1="128.50" y1="200.70" x2="172.10" y2="200.70" stroke="#353535" stroke-width="1.3"/>
<circle cx="147.02" cy="196.80" r="1.08" fill="#3a3a3a"/>
<circle cx="150.30" cy="196.80" r="1.08" fill="#3a3a3a"/>
<circle cx="153.58" cy="196.80" r="1.08" fill="#3a3a3a"/>
<line x1="213.80" y1="200.50" x2="236.60" y2="200.50" stroke="#353535" stroke-width="1.3"/>
<circle cx="225.20" cy="196.60" r="1.08" fill="#3a3a3a"/>
<text x="7.20" y="172.10" font-size="11.8" textLength="7.20" lengthAdjust="spacingAndGlyphs" fill="#231f20" stroke="#231f20" style="stroke-width:0.3px">C</text>
<text x="31.80" y="277.30" font-size="8.3" textLength="14.10" lengthAdjust="spacingAndGlyphs" fill="#231f20" stroke="#231f20">Tfr2</text>
<text x="63.10" y="277.30" font-size="9.0" text-anchor="middle" fill="#231f20" stroke="#231f20">+/+</text>
<text x="84.70" y="277.30" font-size="9.0" text-anchor="middle" fill="#231f20" stroke="#231f20">+/-</text>
<text x="106.30" y="277.30" font-size="9.0" text-anchor="middle" fill="#231f20" stroke="#231f20">-/-</text>
<text x="127.90" y="277.30" font-size="9.0" text-anchor="middle" fill="#231f20" stroke="#231f20">+/+</text>
<text x="149.70" y="277.30" font-size="9.0" text-anchor="middle" fill="#231f20" stroke="#231f20">+/-</text>
<text x="171.60" y="277.30" font-size="9.0" text-anchor="middle" fill="#231f20" stroke="#231f20">-/-</text>
<text x="193.30" y="277.30" font-size="9.0" text-anchor="middle" fill="#231f20" stroke="#231f20">+/+</text>
<text x="215.10" y="277.30" font-size="9.0" text-anchor="middle" fill="#231f20" stroke="#231f20">+/-</text>
<text x="236.80" y="277.30" font-size="9.0" text-anchor="middle" fill="#231f20" stroke="#231f20">-/-</text>
<line x1="58.70" y1="282.40" x2="111.20" y2="282.40" stroke="#4e4e4e" stroke-width="1.5"/>
<text x="84.95" y="292.40" font-size="8.5" text-anchor="middle" fill="#231f20" stroke="#231f20">Hbb<tspan font-size="6.5" dy="-3.0" style="stroke-width:0.05px">th3/+</tspan></text>
<line x1="124.00" y1="282.40" x2="176.00" y2="282.40" stroke="#4e4e4e" stroke-width="1.5"/>
<text x="150.00" y="292.40" font-size="8.5" text-anchor="middle" fill="#231f20" stroke="#231f20">Hbb<tspan font-size="6.5" dy="-3.0" style="stroke-width:0.05px">th3/+</tspan></text>
<line x1="189.10" y1="282.40" x2="241.30" y2="282.40" stroke="#4e4e4e" stroke-width="1.5"/>
<text x="215.20" y="292.40" font-size="8.5" text-anchor="middle" fill="#231f20" stroke="#231f20">Hbb<tspan font-size="6.5" dy="-3.0" style="stroke-width:0.05px">th3/+</tspan></text>
<text x="31.30" y="223.20" font-size="9.8" text-anchor="middle" fill="#231f20" stroke="#231f20" transform="rotate(-90 31.30 223.20)" textLength="35.00" lengthAdjust="spacingAndGlyphs">MCV (fL)</text>
<circle cx="57.10" cy="217.30" r="1.4" fill="#c40a26" stroke="#1a0003" stroke-width="0.7"/>
<circle cx="59.80" cy="218.10" r="1.4" fill="#c40a26" stroke="#1a0003" stroke-width="0.7"/>
<circle cx="62.10" cy="218.10" r="1.4" fill="#c40a26" stroke="#1a0003" stroke-width="0.7"/>
<circle cx="64.40" cy="216.90" r="1.4" fill="#c40a26" stroke="#1a0003" stroke-width="0.7"/>
<circle cx="65.50" cy="218.10" r="1.4" fill="#c40a26" stroke="#1a0003" stroke-width="0.7"/>
<circle cx="68.20" cy="218.50" r="1.4" fill="#c40a26" stroke="#1a0003" stroke-width="0.7"/>
<circle cx="58.60" cy="221.90" r="1.4" fill="#c40a26" stroke="#1a0003" stroke-width="0.7"/>
<circle cx="65.50" cy="221.20" r="1.4" fill="#c40a26" stroke="#1a0003" stroke-width="0.7"/>
<circle cx="63.10" cy="224.60" r="1.4" fill="#c40a26" stroke="#1a0003" stroke-width="0.7"/>
<circle cx="67.80" cy="224.50" r="1.4" fill="#c40a26" stroke="#1a0003" stroke-width="0.7"/>
<circle cx="58.00" cy="219.50" r="1.4" fill="#c40a26" stroke="#1a0003" stroke-width="0.7"/>
<line x1="63.10" y1="218.60" x2="63.10" y2="220.60" stroke="#111" stroke-width="1.0"/>
<line x1="59.50" y1="218.60" x2="66.70" y2="218.60" stroke="#111" stroke-width="1.0"/>
<line x1="59.50" y1="220.60" x2="66.70" y2="220.60" stroke="#111" stroke-width="1.0"/>
<line x1="56.30" y1="219.60" x2="69.90" y2="219.60" stroke="#000" stroke-width="1.25"/>
<circle cx="79.80" cy="216.20" r="1.45" fill="none" stroke="#6fb44e" stroke-width="0.8"/>
<circle cx="84.40" cy="215.40" r="1.45" fill="none" stroke="#6fb44e" stroke-width="0.8"/>
<circle cx="89.40" cy="215.40" r="1.45" fill="none" stroke="#6fb44e" stroke-width="0.8"/>
<circle cx="78.60" cy="218.80" r="1.45" fill="none" stroke="#6fb44e" stroke-width="0.8"/>
<circle cx="81.80" cy="217.50" r="1.45" fill="none" stroke="#6fb44e" stroke-width="0.8"/>
<circle cx="86.30" cy="217.70" r="1.45" fill="none" stroke="#6fb44e" stroke-width="0.8"/>
<circle cx="90.20" cy="218.80" r="1.45" fill="none" stroke="#6fb44e" stroke-width="0.8"/>
<circle cx="80.20" cy="220.80" r="1.45" fill="none" stroke="#6fb44e" stroke-width="0.8"/>
<circle cx="84.00" cy="220.80" r="1.45" fill="none" stroke="#6fb44e" stroke-width="0.8"/>
<circle cx="87.80" cy="220.80" r="1.45" fill="none" stroke="#6fb44e" stroke-width="0.8"/>
<circle cx="89.40" cy="222.70" r="1.45" fill="none" stroke="#6fb44e" stroke-width="0.8"/>
<circle cx="84.80" cy="224.20" r="1.45" fill="none" stroke="#6fb44e" stroke-width="0.8"/>
<line x1="84.70" y1="218.60" x2="84.70" y2="220.20" stroke="#111" stroke-width="1.0"/>
<line x1="81.10" y1="218.60" x2="88.30" y2="218.60" stroke="#111" stroke-width="1.0"/>
<line x1="81.10" y1="220.20" x2="88.30" y2="220.20" stroke="#111" stroke-width="1.0"/>
<line x1="77.90" y1="219.40" x2="91.50" y2="219.40" stroke="#000" stroke-width="1.25"/>
<circle cx="105.50" cy="214.20" r="1.4" fill="#123780" stroke="#0d2a66" stroke-width="0.25"/>
<circle cx="109.00" cy="214.20" r="1.4" fill="#123780" stroke="#0d2a66" stroke-width="0.25"/>
<circle cx="102.50" cy="215.70" r="1.4" fill="#123780" stroke="#0d2a66" stroke-width="0.25"/>
<circle cx="111.70" cy="216.10" r="1.4" fill="#123780" stroke="#0d2a66" stroke-width="0.25"/>
<circle cx="100.90" cy="217.20" r="1.4" fill="#123780" stroke="#0d2a66" stroke-width="0.25"/>
<circle cx="104.00" cy="217.00" r="1.4" fill="#123780" stroke="#0d2a66" stroke-width="0.25"/>
<circle cx="107.10" cy="216.80" r="1.4" fill="#123780" stroke="#0d2a66" stroke-width="0.25"/>
<circle cx="110.20" cy="217.60" r="1.4" fill="#123780" stroke="#0d2a66" stroke-width="0.25"/>
<circle cx="102.10" cy="219.50" r="1.4" fill="#123780" stroke="#0d2a66" stroke-width="0.25"/>
<circle cx="106.70" cy="219.20" r="1.4" fill="#123780" stroke="#0d2a66" stroke-width="0.25"/>
<circle cx="109.40" cy="219.50" r="1.4" fill="#123780" stroke="#0d2a66" stroke-width="0.25"/>
<circle cx="106.30" cy="221.50" r="1.4" fill="#123780" stroke="#0d2a66" stroke-width="0.25"/>
<circle cx="111.30" cy="220.70" r="1.4" fill="#123780" stroke="#0d2a66" stroke-width="0.25"/>
<line x1="106.30" y1="216.60" x2="106.30" y2="217.80" stroke="#111" stroke-width="1.0"/>
<line x1="102.70" y1="216.60" x2="109.90" y2="216.60" stroke="#111" stroke-width="1.0"/>
<line x1="102.70" y1="217.80" x2="109.90" y2="217.80" stroke="#111" stroke-width="1.0"/>
<line x1="99.50" y1="217.20" x2="113.10" y2="217.20" stroke="#000" stroke-width="1.25"/>
<circle cx="123.50" cy="220.10" r="1.4" fill="#c40a26" stroke="#1a0003" stroke-width="0.7"/>
<circle cx="128.10" cy="220.60" r="1.4" fill="#c40a26" stroke="#1a0003" stroke-width="0.7"/>
<circle cx="130.90" cy="220.10" r="1.4" fill="#c40a26" stroke="#1a0003" stroke-width="0.7"/>
<circle cx="133.00" cy="218.80" r="1.4" fill="#c40a26" stroke="#1a0003" stroke-width="0.7"/>
<circle cx="123.50" cy="223.80" r="1.4" fill="#c40a26" stroke="#1a0003" stroke-width="0.7"/>
<circle cx="128.10" cy="225.50" r="1.4" fill="#c40a26" stroke="#1a0003" stroke-width="0.7"/>
<circle cx="133.00" cy="224.20" r="1.4" fill="#c40a26" stroke="#1a0003" stroke-width="0.7"/>
<line x1="127.90" y1="221.60" x2="127.90" y2="223.40" stroke="#111" stroke-width="1.0"/>
<line x1="124.30" y1="221.60" x2="131.50" y2="221.60" stroke="#111" stroke-width="1.0"/>
<line x1="124.30" y1="223.40" x2="131.50" y2="223.40" stroke="#111" stroke-width="1.0"/>
<line x1="121.10" y1="222.50" x2="134.70" y2="222.50" stroke="#000" stroke-width="1.25"/>
<circle cx="144.50" cy="219.30" r="1.45" fill="none" stroke="#6fb44e" stroke-width="0.8"/>
<circle cx="148.20" cy="219.10" r="1.45" fill="none" stroke="#6fb44e" stroke-width="0.8"/>
<circle cx="151.50" cy="219.10" r="1.45" fill="none" stroke="#6fb44e" stroke-width="0.8"/>
<circle cx="154.90" cy="220.60" r="1.45" fill="none" stroke="#6fb44e" stroke-width="0.8"/>
<circle cx="146.30" cy="222.00" r="1.45" fill="none" stroke="#6fb44e" stroke-width="0.8"/>
<circle cx="150.60" cy="222.00" r="1.45" fill="none" stroke="#6fb44e" stroke-width="0.8"/>
<circle cx="144.50" cy="225.00" r="1.45" fill="none" stroke="#6fb44e" stroke-width="0.8"/>
<circle cx="148.20" cy="226.20" r="1.45" fill="none" stroke="#6fb44e" stroke-width="0.8"/>
<circle cx="151.20" cy="225.20" r="1.45" fill="none" stroke="#6fb44e" stroke-width="0.8"/>
<circle cx="154.90" cy="225.20" r="1.45" fill="none" stroke="#6fb44e" stroke-width="0.8"/>
<circle cx="153.10" cy="222.80" r="1.45" fill="none" stroke="#6fb44e" stroke-width="0.8"/>
<line x1="149.70" y1="221.80" x2="149.70" y2="223.20" stroke="#111" stroke-width="1.0"/>
<line x1="146.10" y1="221.80" x2="153.30" y2="221.80" stroke="#111" stroke-width="1.0"/>
<line x1="146.10" y1="223.20" x2="153.30" y2="223.20" stroke="#111" stroke-width="1.0"/>
<line x1="142.90" y1="222.50" x2="156.50" y2="222.50" stroke="#000" stroke-width="1.25"/>
<circle cx="167.20" cy="213.90" r="1.4" fill="#123780" stroke="#0d2a66" stroke-width="0.25"/>
<circle cx="176.50" cy="213.90" r="1.4" fill="#123780" stroke="#0d2a66" stroke-width="0.25"/>
<circle cx="172.20" cy="216.00" r="1.4" fill="#123780" stroke="#0d2a66" stroke-width="0.25"/>
<circle cx="166.60" cy="217.80" r="1.4" fill="#123780" stroke="#0d2a66" stroke-width="0.25"/>
<circle cx="174.60" cy="217.60" r="1.4" fill="#123780" stroke="#0d2a66" stroke-width="0.25"/>
<circle cx="178.30" cy="217.20" r="1.4" fill="#123780" stroke="#0d2a66" stroke-width="0.25"/>
<circle cx="169.60" cy="219.10" r="1.4" fill="#123780" stroke="#0d2a66" stroke-width="0.25"/>
<circle cx="172.20" cy="221.50" r="1.4" fill="#123780" stroke="#0d2a66" stroke-width="0.25"/>
<circle cx="175.20" cy="220.30" r="1.4" fill="#123780" stroke="#0d2a66" stroke-width="0.25"/>
<line x1="171.60" y1="216.70" x2="171.60" y2="218.50" stroke="#111" stroke-width="1.0"/>
<line x1="168.00" y1="216.70" x2="175.20" y2="216.70" stroke="#111" stroke-width="1.0"/>
<line x1="168.00" y1="218.50" x2="175.20" y2="218.50" stroke="#111" stroke-width="1.0"/>
<line x1="164.80" y1="217.60" x2="178.40" y2="217.60" stroke="#000" stroke-width="1.25"/>
<circle cx="188.90" cy="218.50" r="1.4" fill="#c40a26" stroke="#1a0003" stroke-width="0.7"/>
<circle cx="188.90" cy="222.20" r="1.4" fill="#c40a26" stroke="#1a0003" stroke-width="0.7"/>
<circle cx="191.60" cy="221.20" r="1.4" fill="#c40a26" stroke="#1a0003" stroke-width="0.7"/>
<circle cx="193.60" cy="220.70" r="1.4" fill="#c40a26" stroke="#1a0003" stroke-width="0.7"/>
<circle cx="195.70" cy="222.80" r="1.4" fill="#c40a26" stroke="#1a0003" stroke-width="0.7"/>
<circle cx="193.60" cy="225.80" r="1.4" fill="#c40a26" stroke="#1a0003" stroke-width="0.7"/>
<circle cx="198.50" cy="225.20" r="1.4" fill="#c40a26" stroke="#1a0003" stroke-width="0.7"/>
<line x1="193.30" y1="221.70" x2="193.30" y2="223.90" stroke="#111" stroke-width="1.0"/>
<line x1="189.70" y1="221.70" x2="196.90" y2="221.70" stroke="#111" stroke-width="1.0"/>
<line x1="189.70" y1="223.90" x2="196.90" y2="223.90" stroke="#111" stroke-width="1.0"/>
<line x1="186.50" y1="222.80" x2="200.10" y2="222.80" stroke="#000" stroke-width="1.25"/>
<circle cx="209.80" cy="220.90" r="1.45" fill="none" stroke="#6fb44e" stroke-width="0.8"/>
<circle cx="213.50" cy="220.90" r="1.45" fill="none" stroke="#6fb44e" stroke-width="0.8"/>
<circle cx="217.80" cy="220.30" r="1.45" fill="none" stroke="#6fb44e" stroke-width="0.8"/>
<circle cx="220.70" cy="220.90" r="1.45" fill="none" stroke="#6fb44e" stroke-width="0.8"/>
<circle cx="209.80" cy="226.50" r="1.45" fill="none" stroke="#6fb44e" stroke-width="0.8"/>
<circle cx="213.50" cy="227.10" r="1.45" fill="none" stroke="#6fb44e" stroke-width="0.8"/>
<circle cx="217.80" cy="226.50" r="1.45" fill="none" stroke="#6fb44e" stroke-width="0.8"/>
<circle cx="220.70" cy="225.80" r="1.45" fill="none" stroke="#6fb44e" stroke-width="0.8"/>
<circle cx="215.60" cy="223.40" r="1.45" fill="none" stroke="#6fb44e" stroke-width="0.8"/>
<circle cx="211.70" cy="223.60" r="1.45" fill="none" stroke="#6fb44e" stroke-width="0.8"/>
<line x1="215.10" y1="223.60" x2="215.10" y2="225.20" stroke="#111" stroke-width="1.0"/>
<line x1="211.50" y1="223.60" x2="218.70" y2="223.60" stroke="#111" stroke-width="1.0"/>
<line x1="211.50" y1="225.20" x2="218.70" y2="225.20" stroke="#111" stroke-width="1.0"/>
<line x1="208.30" y1="224.40" x2="221.90" y2="224.40" stroke="#000" stroke-width="1.25"/>
<circle cx="236.90" cy="205.50" r="1.4" fill="#123780" stroke="#0d2a66" stroke-width="0.25"/>
<circle cx="241.20" cy="212.60" r="1.4" fill="#123780" stroke="#0d2a66" stroke-width="0.25"/>
<circle cx="232.60" cy="216.00" r="1.4" fill="#123780" stroke="#0d2a66" stroke-width="0.25"/>
<circle cx="238.20" cy="215.40" r="1.4" fill="#123780" stroke="#0d2a66" stroke-width="0.25"/>
<circle cx="241.80" cy="216.00" r="1.4" fill="#123780" stroke="#0d2a66" stroke-width="0.25"/>
<circle cx="232.60" cy="219.10" r="1.4" fill="#123780" stroke="#0d2a66" stroke-width="0.25"/>
<circle cx="236.90" cy="221.90" r="1.4" fill="#123780" stroke="#0d2a66" stroke-width="0.25"/>
<circle cx="241.20" cy="221.90" r="1.4" fill="#123780" stroke="#0d2a66" stroke-width="0.25"/>
<line x1="236.80" y1="214.90" x2="236.80" y2="218.30" stroke="#111" stroke-width="1.0"/>
<line x1="233.20" y1="214.90" x2="240.40" y2="214.90" stroke="#111" stroke-width="1.0"/>
<line x1="233.20" y1="218.30" x2="240.40" y2="218.30" stroke="#111" stroke-width="1.0"/>
<line x1="230.00" y1="216.60" x2="243.60" y2="216.60" stroke="#000" stroke-width="1.25"/>
<line x1="305.00" y1="183.90" x2="305.00" y2="263.60" stroke="#000" stroke-width="1.25"/>
<line x1="302.00" y1="186.70" x2="305.00" y2="186.70" stroke="#000" stroke-width="1.0"/>
<text x="298.80" y="189.40" font-size="7.8" text-anchor="end" fill="#231f20" stroke="#231f20">20</text>
<line x1="302.00" y1="205.80" x2="305.00" y2="205.80" stroke="#000" stroke-width="1.0"/>
<text x="298.80" y="208.50" font-size="7.8" text-anchor="end" fill="#231f20" stroke="#231f20">15</text>
<line x1="302.00" y1="224.90" x2="305.00" y2="224.90" stroke="#000" stroke-width="1.0"/>
<text x="298.80" y="227.60" font-size="7.8" text-anchor="end" fill="#231f20" stroke="#231f20">10</text>
<line x1="302.00" y1="244.00" x2="305.00" y2="244.00" stroke="#000" stroke-width="1.0"/>
<text x="298.80" y="246.70" font-size="7.8" text-anchor="end" fill="#231f20" stroke="#231f20">5</text>
<line x1="302.00" y1="263.10" x2="305.00" y2="263.10" stroke="#000" stroke-width="1.0"/>
<text x="298.80" y="265.80" font-size="7.8" text-anchor="end" fill="#231f20" stroke="#231f20">0</text>
<line x1="304.40" y1="263.10" x2="500.60" y2="263.10" stroke="#000" stroke-width="1.15"/>
<line x1="316.40" y1="263.10" x2="316.40" y2="266.10" stroke="#000" stroke-width="1.2"/>
<line x1="338.10" y1="263.10" x2="338.10" y2="266.10" stroke="#000" stroke-width="1.2"/>
<line x1="359.70" y1="263.10" x2="359.70" y2="266.10" stroke="#000" stroke-width="1.2"/>
<line x1="381.40" y1="263.10" x2="381.40" y2="266.10" stroke="#000" stroke-width="1.2"/>
<line x1="403.20" y1="263.10" x2="403.20" y2="266.10" stroke="#000" stroke-width="1.2"/>
<line x1="425.10" y1="263.10" x2="425.10" y2="266.10" stroke="#000" stroke-width="1.2"/>
<line x1="446.70" y1="263.10" x2="446.70" y2="266.10" stroke="#000" stroke-width="1.2"/>
<line x1="468.40" y1="263.10" x2="468.40" y2="266.10" stroke="#000" stroke-width="1.2"/>
<line x1="490.10" y1="263.10" x2="490.10" y2="266.10" stroke="#000" stroke-width="1.2"/>
<line x1="370.60" y1="264.70" x2="370.60" y2="186.70" stroke="#0c0c0c" stroke-width="1.1" stroke-dasharray="2.9,2.55"/>
<line x1="436.00" y1="264.70" x2="436.00" y2="186.70" stroke="#0c0c0c" stroke-width="1.1" stroke-dasharray="2.9,2.55"/>
<line x1="305.30" y1="207.90" x2="501.00" y2="207.90" stroke="#c0284e" stroke-width="1.1" stroke-dasharray="3.5,2.1"/>
<text x="504.00" y="210.50" font-size="8.0" fill="#c0284e" stroke="#c0284e">wt</text>
<text x="317.90" y="179.30" font-size="8.8" textLength="40.60" lengthAdjust="spacingAndGlyphs" fill="#231f20" stroke="#231f20" style="stroke-width:0.1px">10 week-old</text>
<text x="383.30" y="179.30" font-size="8.8" textLength="40.10" lengthAdjust="spacingAndGlyphs" fill="#231f20" stroke="#231f20" style="stroke-width:0.1px">25 week-old</text>
<text x="448.40" y="179.30" font-size="8.8" textLength="40.40" lengthAdjust="spacingAndGlyphs" fill="#231f20" stroke="#231f20" style="stroke-width:0.1px">37 week-old</text>
<text x="275.20" y="172.00" font-size="11.8" fill="#231f20" stroke="#231f20" style="stroke-width:0.3px">D</text>
<text x="284.80" y="277.30" font-size="8.3" textLength="14.10" lengthAdjust="spacingAndGlyphs" fill="#231f20" stroke="#231f20">Tfr2</text>
<text x="316.40" y="277.30" font-size="9.0" text-anchor="middle" fill="#231f20" stroke="#231f20">+/+</text>
<text x="338.10" y="277.30" font-size="9.0" text-anchor="middle" fill="#231f20" stroke="#231f20">+/-</text>
<text x="359.70" y="277.30" font-size="9.0" text-anchor="middle" fill="#231f20" stroke="#231f20">-/-</text>
<text x="381.40" y="277.30" font-size="9.0" text-anchor="middle" fill="#231f20" stroke="#231f20">+/+</text>
<text x="403.20" y="277.30" font-size="9.0" text-anchor="middle" fill="#231f20" stroke="#231f20">+/-</text>
<text x="425.10" y="277.30" font-size="9.0" text-anchor="middle" fill="#231f20" stroke="#231f20">-/-</text>
<text x="446.70" y="277.30" font-size="9.0" text-anchor="middle" fill="#231f20" stroke="#231f20">+/+</text>
<text x="468.40" y="277.30" font-size="9.0" text-anchor="middle" fill="#231f20" stroke="#231f20">+/-</text>
<text x="490.10" y="277.30" font-size="9.0" text-anchor="middle" fill="#231f20" stroke="#231f20">-/-</text>
<line x1="312.30" y1="282.30" x2="364.50" y2="282.30" stroke="#4e4e4e" stroke-width="1.5"/>
<text x="338.40" y="292.40" font-size="8.5" text-anchor="middle" fill="#231f20" stroke="#231f20">Hbb<tspan font-size="6.5" dy="-3.0" style="stroke-width:0.05px">th3/+</tspan></text>
<line x1="377.20" y1="282.30" x2="430.00" y2="282.30" stroke="#4e4e4e" stroke-width="1.5"/>
<text x="403.60" y="292.40" font-size="8.5" text-anchor="middle" fill="#231f20" stroke="#231f20">Hbb<tspan font-size="6.5" dy="-3.0" style="stroke-width:0.05px">th3/+</tspan></text>
<line x1="442.60" y1="282.30" x2="494.90" y2="282.30" stroke="#4e4e4e" stroke-width="1.5"/>
<text x="468.75" y="292.40" font-size="8.5" text-anchor="middle" fill="#231f20" stroke="#231f20">Hbb<tspan font-size="6.5" dy="-3.0" style="stroke-width:0.05px">th3/+</tspan></text>
<text x="283.90" y="223.35" font-size="9.8" text-anchor="middle" fill="#231f20" stroke="#231f20" transform="rotate(-90 283.90 223.35)" textLength="38.90" lengthAdjust="spacingAndGlyphs">MCH (pg)</text>
<circle cx="316.00" cy="205.40" r="1.4" fill="#c40a26" stroke="#1a0003" stroke-width="0.7"/>
<circle cx="313.70" cy="208.10" r="1.4" fill="#c40a26" stroke="#1a0003" stroke-width="0.7"/>
<circle cx="318.70" cy="207.30" r="1.4" fill="#c40a26" stroke="#1a0003" stroke-width="0.7"/>
<circle cx="311.40" cy="210.40" r="1.4" fill="#c40a26" stroke="#1a0003" stroke-width="0.7"/>
<circle cx="316.00" cy="210.40" r="1.4" fill="#c40a26" stroke="#1a0003" stroke-width="0.7"/>
<circle cx="321.00" cy="210.00" r="1.4" fill="#c40a26" stroke="#1a0003" stroke-width="0.7"/>
<circle cx="313.70" cy="212.30" r="1.4" fill="#c40a26" stroke="#1a0003" stroke-width="0.7"/>
<circle cx="318.30" cy="212.30" r="1.4" fill="#c40a26" stroke="#1a0003" stroke-width="0.7"/>
<circle cx="311.40" cy="213.80" r="1.4" fill="#c40a26" stroke="#1a0003" stroke-width="0.7"/>
<circle cx="321.00" cy="214.20" r="1.4" fill="#c40a26" stroke="#1a0003" stroke-width="0.7"/>
<circle cx="316.40" cy="216.50" r="1.4" fill="#c40a26" stroke="#1a0003" stroke-width="0.7"/>
<line x1="316.40" y1="210.30" x2="316.40" y2="212.10" stroke="#111" stroke-width="1.0"/>
<line x1="312.80" y1="210.30" x2="320.00" y2="210.30" stroke="#111" stroke-width="1.0"/>
<line x1="312.80" y1="212.10" x2="320.00" y2="212.10" stroke="#111" stroke-width="1.0"/>
<line x1="309.60" y1="211.20" x2="323.20" y2="211.20" stroke="#000" stroke-width="1.25"/>
<circle cx="332.90" cy="208.10" r="1.45" fill="none" stroke="#6fb44e" stroke-width="0.8"/>
<circle cx="335.90" cy="209.00" r="1.45" fill="none" stroke="#6fb44e" stroke-width="0.8"/>
<circle cx="338.30" cy="210.00" r="1.45" fill="none" stroke="#6fb44e" stroke-width="0.8"/>
<circle cx="341.80" cy="210.00" r="1.45" fill="none" stroke="#6fb44e" stroke-width="0.8"/>
<circle cx="343.70" cy="210.40" r="1.45" fill="none" stroke="#6fb44e" stroke-width="0.8"/>
<circle cx="331.80" cy="213.50" r="1.45" fill="none" stroke="#6fb44e" stroke-width="0.8"/>
<circle cx="334.50" cy="213.80" r="1.45" fill="none" stroke="#6fb44e" stroke-width="0.8"/>
<circle cx="337.50" cy="215.00" r="1.45" fill="none" stroke="#6fb44e" stroke-width="0.8"/>
<circle cx="340.60" cy="214.60" r="1.45" fill="none" stroke="#6fb44e" stroke-width="0.8"/>
<circle cx="343.70" cy="213.50" r="1.45" fill="none" stroke="#6fb44e" stroke-width="0.8"/>
<circle cx="336.50" cy="211.90" r="1.45" fill="none" stroke="#6fb44e" stroke-width="0.8"/>
<line x1="338.10" y1="211.60" x2="338.10" y2="212.80" stroke="#111" stroke-width="1.0"/>
<line x1="334.50" y1="211.60" x2="341.70" y2="211.60" stroke="#111" stroke-width="1.0"/>
<line x1="334.50" y1="212.80" x2="341.70" y2="212.80" stroke="#111" stroke-width="1.0"/>
<line x1="331.30" y1="212.20" x2="344.90" y2="212.20" stroke="#000" stroke-width="1.25"/>
<circle cx="357.30" cy="204.90" r="1.4" fill="#123780" stroke="#0d2a66" stroke-width="0.25"/>
<circle cx="362.10" cy="204.40" r="1.4" fill="#123780" stroke="#0d2a66" stroke-width="0.25"/>
<circle cx="354.80" cy="208.60" r="1.4" fill="#123780" stroke="#0d2a66" stroke-width="0.25"/>
<circle cx="359.30" cy="208.60" r="1.4" fill="#123780" stroke="#0d2a66" stroke-width="0.25"/>
<circle cx="364.10" cy="208.60" r="1.4" fill="#123780" stroke="#0d2a66" stroke-width="0.25"/>
<circle cx="353.50" cy="211.30" r="1.4" fill="#123780" stroke="#0d2a66" stroke-width="0.25"/>
<circle cx="357.10" cy="211.30" r="1.4" fill="#123780" stroke="#0d2a66" stroke-width="0.25"/>
<circle cx="360.60" cy="211.30" r="1.4" fill="#123780" stroke="#0d2a66" stroke-width="0.25"/>
<circle cx="365.00" cy="211.30" r="1.4" fill="#123780" stroke="#0d2a66" stroke-width="0.25"/>
<circle cx="354.80" cy="213.50" r="1.4" fill="#123780" stroke="#0d2a66" stroke-width="0.25"/>
<circle cx="359.30" cy="213.80" r="1.4" fill="#123780" stroke="#0d2a66" stroke-width="0.25"/>
<circle cx="363.70" cy="213.50" r="1.4" fill="#123780" stroke="#0d2a66" stroke-width="0.25"/>
<line x1="359.70" y1="210.60" x2="359.70" y2="212.00" stroke="#111" stroke-width="1.0"/>
<line x1="356.10" y1="210.60" x2="363.30" y2="210.60" stroke="#111" stroke-width="1.0"/>
<line x1="356.10" y1="212.00" x2="363.30" y2="212.00" stroke="#111" stroke-width="1.0"/>
<line x1="352.90" y1="211.30" x2="366.50" y2="211.30" stroke="#000" stroke-width="1.25"/>
<circle cx="377.00" cy="206.80" r="1.4" fill="#c40a26" stroke="#1a0003" stroke-width="0.7"/>
<circle cx="381.40" cy="208.60" r="1.4" fill="#c40a26" stroke="#1a0003" stroke-width="0.7"/>
<circle cx="386.30" cy="206.40" r="1.4" fill="#c40a26" stroke="#1a0003" stroke-width="0.7"/>
<circle cx="376.50" cy="213.80" r="1.4" fill="#c40a26" stroke="#1a0003" stroke-width="0.7"/>
<circle cx="381.40" cy="214.40" r="1.4" fill="#c40a26" stroke="#1a0003" stroke-width="0.7"/>
<circle cx="384.50" cy="213.00" r="1.4" fill="#c40a26" stroke="#1a0003" stroke-width="0.7"/>
<circle cx="386.70" cy="214.40" r="1.4" fill="#c40a26" stroke="#1a0003" stroke-width="0.7"/>
<circle cx="379.20" cy="210.60" r="1.4" fill="#c40a26" stroke="#1a0003" stroke-width="0.7"/>
<circle cx="383.20" cy="210.90" r="1.4" fill="#c40a26" stroke="#1a0003" stroke-width="0.7"/>
<line x1="381.40" y1="210.00" x2="381.40" y2="212.20" stroke="#111" stroke-width="1.0"/>
<line x1="377.80" y1="210.00" x2="385.00" y2="210.00" stroke="#111" stroke-width="1.0"/>
<line x1="377.80" y1="212.20" x2="385.00" y2="212.20" stroke="#111" stroke-width="1.0"/>
<line x1="374.60" y1="211.10" x2="388.20" y2="211.10" stroke="#000" stroke-width="1.25"/>
<circle cx="403.10" cy="202.90" r="1.45" fill="none" stroke="#6fb44e" stroke-width="0.8"/>
<circle cx="400.40" cy="204.60" r="1.45" fill="none" stroke="#6fb44e" stroke-width="0.8"/>
<circle cx="405.70" cy="204.20" r="1.45" fill="none" stroke="#6fb44e" stroke-width="0.8"/>
<circle cx="398.60" cy="206.80" r="1.45" fill="none" stroke="#6fb44e" stroke-width="0.8"/>
<circle cx="403.10" cy="206.80" r="1.45" fill="none" stroke="#6fb44e" stroke-width="0.8"/>
<circle cx="407.90" cy="206.80" r="1.45" fill="none" stroke="#6fb44e" stroke-width="0.8"/>
<circle cx="398.20" cy="210.40" r="1.45" fill="none" stroke="#6fb44e" stroke-width="0.8"/>
<circle cx="401.70" cy="211.30" r="1.45" fill="none" stroke="#6fb44e" stroke-width="0.8"/>
<circle cx="405.30" cy="210.80" r="1.45" fill="none" stroke="#6fb44e" stroke-width="0.8"/>
<circle cx="408.80" cy="210.80" r="1.45" fill="none" stroke="#6fb44e" stroke-width="0.8"/>
<circle cx="398.60" cy="213.50" r="1.45" fill="none" stroke="#6fb44e" stroke-width="0.8"/>
<circle cx="403.10" cy="213.90" r="1.45" fill="none" stroke="#6fb44e" stroke-width="0.8"/>
<circle cx="407.50" cy="213.80" r="1.45" fill="none" stroke="#6fb44e" stroke-width="0.8"/>
<circle cx="403.10" cy="216.10" r="1.45" fill="none" stroke="#6fb44e" stroke-width="0.8"/>
<line x1="403.20" y1="209.50" x2="403.20" y2="211.30" stroke="#111" stroke-width="1.0"/>
<line x1="399.60" y1="209.50" x2="406.80" y2="209.50" stroke="#111" stroke-width="1.0"/>
<line x1="399.60" y1="211.30" x2="406.80" y2="211.30" stroke="#111" stroke-width="1.0"/>
<line x1="396.40" y1="210.40" x2="410.00" y2="210.40" stroke="#000" stroke-width="1.25"/>
<circle cx="420.30" cy="207.30" r="1.4" fill="#123780" stroke="#0d2a66" stroke-width="0.25"/>
<circle cx="424.70" cy="207.70" r="1.4" fill="#123780" stroke="#0d2a66" stroke-width="0.25"/>
<circle cx="418.50" cy="209.50" r="1.4" fill="#123780" stroke="#0d2a66" stroke-width="0.25"/>
<circle cx="422.20" cy="210.10" r="1.4" fill="#123780" stroke="#0d2a66" stroke-width="0.25"/>
<circle cx="427.00" cy="209.50" r="1.4" fill="#123780" stroke="#0d2a66" stroke-width="0.25"/>
<circle cx="430.10" cy="209.90" r="1.4" fill="#123780" stroke="#0d2a66" stroke-width="0.25"/>
<circle cx="420.30" cy="212.60" r="1.4" fill="#123780" stroke="#0d2a66" stroke-width="0.25"/>
<circle cx="424.70" cy="213.00" r="1.4" fill="#123780" stroke="#0d2a66" stroke-width="0.25"/>
<circle cx="429.20" cy="213.00" r="1.4" fill="#123780" stroke="#0d2a66" stroke-width="0.25"/>
<line x1="425.10" y1="209.80" x2="425.10" y2="211.00" stroke="#111" stroke-width="1.0"/>
<line x1="421.50" y1="209.80" x2="428.70" y2="209.80" stroke="#111" stroke-width="1.0"/>
<line x1="421.50" y1="211.00" x2="428.70" y2="211.00" stroke="#111" stroke-width="1.0"/>
<line x1="418.30" y1="210.40" x2="431.90" y2="210.40" stroke="#000" stroke-width="1.25"/>
<circle cx="446.80" cy="197.50" r="1.4" fill="#c40a26" stroke="#1a0003" stroke-width="0.7"/>
<circle cx="451.40" cy="207.40" r="1.4" fill="#c40a26" stroke="#1a0003" stroke-width="0.7"/>
<circle cx="441.90" cy="210.20" r="1.4" fill="#c40a26" stroke="#1a0003" stroke-width="0.7"/>
<circle cx="446.80" cy="210.50" r="1.4" fill="#c40a26" stroke="#1a0003" stroke-width="0.7"/>
<circle cx="442.40" cy="211.70" r="1.4" fill="#c40a26" stroke="#1a0003" stroke-width="0.7"/>
<circle cx="446.80" cy="216.00" r="1.4" fill="#c40a26" stroke="#1a0003" stroke-width="0.7"/>
<circle cx="451.40" cy="214.50" r="1.4" fill="#c40a26" stroke="#1a0003" stroke-width="0.7"/>
<line x1="446.70" y1="207.30" x2="446.70" y2="211.10" stroke="#111" stroke-width="1.0"/>
<line x1="443.10" y1="207.30" x2="450.30" y2="207.30" stroke="#111" stroke-width="1.0"/>
<line x1="443.10" y1="211.10" x2="450.30" y2="211.10" stroke="#111" stroke-width="1.0"/>
<line x1="439.90" y1="209.20" x2="453.50" y2="209.20" stroke="#000" stroke-width="1.25"/>
<circle cx="464.10" cy="202.80" r="1.45" fill="none" stroke="#6fb44e" stroke-width="0.8"/>
<circle cx="468.60" cy="204.10" r="1.45" fill="none" stroke="#6fb44e" stroke-width="0.8"/>
<circle cx="473.20" cy="204.10" r="1.45" fill="none" stroke="#6fb44e" stroke-width="0.8"/>
<circle cx="464.10" cy="207.40" r="1.45" fill="none" stroke="#6fb44e" stroke-width="0.8"/>
<circle cx="468.60" cy="207.40" r="1.45" fill="none" stroke="#6fb44e" stroke-width="0.8"/>
<circle cx="473.20" cy="207.60" r="1.45" fill="none" stroke="#6fb44e" stroke-width="0.8"/>
<circle cx="464.30" cy="212.90" r="1.45" fill="none" stroke="#6fb44e" stroke-width="0.8"/>
<circle cx="468.20" cy="211.10" r="1.45" fill="none" stroke="#6fb44e" stroke-width="0.8"/>
<circle cx="472.90" cy="212.90" r="1.45" fill="none" stroke="#6fb44e" stroke-width="0.8"/>
<circle cx="468.60" cy="216.60" r="1.45" fill="none" stroke="#6fb44e" stroke-width="0.8"/>
<line x1="468.40" y1="207.00" x2="468.40" y2="209.40" stroke="#111" stroke-width="1.0"/>
<line x1="464.80" y1="207.00" x2="472.00" y2="207.00" stroke="#111" stroke-width="1.0"/>
<line x1="464.80" y1="209.40" x2="472.00" y2="209.40" stroke="#111" stroke-width="1.0"/>
<line x1="461.60" y1="208.20" x2="475.20" y2="208.20" stroke="#000" stroke-width="1.25"/>
<circle cx="490.20" cy="205.30" r="1.4" fill="#123780" stroke="#0d2a66" stroke-width="0.25"/>
<circle cx="486.60" cy="208.00" r="1.4" fill="#123780" stroke="#0d2a66" stroke-width="0.25"/>
<circle cx="493.80" cy="208.00" r="1.4" fill="#123780" stroke="#0d2a66" stroke-width="0.25"/>
<circle cx="490.20" cy="210.50" r="1.4" fill="#123780" stroke="#0d2a66" stroke-width="0.25"/>
<circle cx="485.80" cy="213.50" r="1.4" fill="#123780" stroke="#0d2a66" stroke-width="0.25"/>
<circle cx="490.20" cy="216.00" r="1.4" fill="#123780" stroke="#0d2a66" stroke-width="0.25"/>
<circle cx="495.10" cy="214.40" r="1.4" fill="#123780" stroke="#0d2a66" stroke-width="0.25"/>
<line x1="490.10" y1="209.50" x2="490.10" y2="211.50" stroke="#111" stroke-width="1.0"/>
<line x1="486.50" y1="209.50" x2="493.70" y2="209.50" stroke="#111" stroke-width="1.0"/>
<line x1="486.50" y1="211.50" x2="493.70" y2="211.50" stroke="#111" stroke-width="1.0"/>
<line x1="483.30" y1="210.50" x2="496.90" y2="210.50" stroke="#000" stroke-width="1.25"/>
<line x1="52.50" y1="334.10" x2="52.50" y2="403.60" stroke="#000" stroke-width="1.25"/>
<line x1="49.50" y1="336.90" x2="52.50" y2="336.90" stroke="#000" stroke-width="1.0"/>
<text x="45.60" y="339.60" font-size="7.8" text-anchor="end" fill="#231f20" stroke="#231f20">10000</text>
<line x1="49.50" y1="350.20" x2="52.50" y2="350.20" stroke="#000" stroke-width="1.0"/>
<text x="45.60" y="352.90" font-size="7.8" text-anchor="end" fill="#231f20" stroke="#231f20">8000</text>
<line x1="49.50" y1="363.40" x2="52.50" y2="363.40" stroke="#000" stroke-width="1.0"/>
<text x="45.60" y="366.10" font-size="7.8" text-anchor="end" fill="#231f20" stroke="#231f20">6000</text>
<line x1="49.50" y1="376.60" x2="52.50" y2="376.60" stroke="#000" stroke-width="1.0"/>
<text x="45.60" y="379.30" font-size="7.8" text-anchor="end" fill="#231f20" stroke="#231f20">4000</text>
<line x1="49.50" y1="389.80" x2="52.50" y2="389.80" stroke="#000" stroke-width="1.0"/>
<text x="45.60" y="392.50" font-size="7.8" text-anchor="end" fill="#231f20" stroke="#231f20">2000</text>
<line x1="49.50" y1="403.10" x2="52.50" y2="403.10" stroke="#000" stroke-width="1.0"/>
<text x="45.60" y="405.80" font-size="7.8" text-anchor="end" fill="#231f20" stroke="#231f20">0</text>
<line x1="51.90" y1="403.10" x2="151.60" y2="403.10" stroke="#000" stroke-width="1.15"/>
<line x1="60.40" y1="403.10" x2="60.40" y2="406.10" stroke="#000" stroke-width="1.2"/>
<line x1="77.20" y1="403.10" x2="77.20" y2="406.10" stroke="#000" stroke-width="1.2"/>
<line x1="93.80" y1="403.10" x2="93.80" y2="406.10" stroke="#000" stroke-width="1.2"/>
<line x1="110.50" y1="403.10" x2="110.50" y2="406.10" stroke="#000" stroke-width="1.2"/>
<line x1="126.90" y1="403.10" x2="126.90" y2="406.10" stroke="#000" stroke-width="1.2"/>
<line x1="143.50" y1="403.10" x2="143.50" y2="406.10" stroke="#000" stroke-width="1.2"/>
<line x1="102.20" y1="404.70" x2="102.20" y2="338.20" stroke="#0c0c0c" stroke-width="1.1" stroke-dasharray="2.9,2.55"/>
<line x1="52.80" y1="402.20" x2="151.60" y2="402.20" stroke="#c0284e" stroke-width="1.1" stroke-dasharray="3.5,2.1"/>
<text x="155.00" y="404.80" font-size="8.0" fill="#c0284e" stroke="#c0284e">wt</text>
<text x="57.10" y="329.10" font-size="8.8" textLength="40.40" lengthAdjust="spacingAndGlyphs" fill="#231f20" stroke="#231f20" style="stroke-width:0.1px">10 week-old</text>
<text x="107.10" y="329.10" font-size="8.8" textLength="40.00" lengthAdjust="spacingAndGlyphs" fill="#231f20" stroke="#231f20" style="stroke-width:0.1px">37 week-old</text>
<line x1="60.10" y1="342.40" x2="94.30" y2="342.40" stroke="#353535" stroke-width="1.3"/>
<circle cx="73.92" cy="337.90" r="1.08" fill="#3a3a3a"/>
<circle cx="77.20" cy="337.90" r="1.08" fill="#3a3a3a"/>
<circle cx="80.48" cy="337.90" r="1.08" fill="#3a3a3a"/>
<line x1="78.00" y1="349.20" x2="94.30" y2="349.20" stroke="#353535" stroke-width="1.3"/>
<circle cx="82.87" cy="344.70" r="1.08" fill="#3a3a3a"/>
<circle cx="86.15" cy="344.70" r="1.08" fill="#3a3a3a"/>
<circle cx="89.43" cy="344.70" r="1.08" fill="#3a3a3a"/>
<line x1="110.70" y1="342.40" x2="145.30" y2="342.40" stroke="#353535" stroke-width="1.3"/>
<circle cx="124.72" cy="337.90" r="1.08" fill="#3a3a3a"/>
<circle cx="128.00" cy="337.90" r="1.08" fill="#3a3a3a"/>
<circle cx="131.28" cy="337.90" r="1.08" fill="#3a3a3a"/>
<line x1="110.70" y1="349.20" x2="126.60" y2="349.20" stroke="#353535" stroke-width="1.3"/>
<circle cx="118.65" cy="344.70" r="1.08" fill="#3a3a3a"/>
<line x1="128.30" y1="349.20" x2="145.30" y2="349.20" stroke="#353535" stroke-width="1.3"/>
<circle cx="136.80" cy="344.70" r="1.08" fill="#3a3a3a"/>
<text x="7.90" y="314.80" font-size="11.8" textLength="6.10" lengthAdjust="spacingAndGlyphs" fill="#231f20" stroke="#231f20" style="stroke-width:0.3px">E</text>
<text x="31.80" y="417.00" font-size="8.3" textLength="13.70" lengthAdjust="spacingAndGlyphs" fill="#231f20" stroke="#231f20">Tfr2</text>
<text x="60.40" y="417.00" font-size="9.0" text-anchor="middle" fill="#231f20" stroke="#231f20">+/+</text>
<text x="77.20" y="417.00" font-size="9.0" text-anchor="middle" fill="#231f20" stroke="#231f20">+/-</text>
<text x="93.80" y="417.00" font-size="9.0" text-anchor="middle" fill="#231f20" stroke="#231f20">-/-</text>
<text x="110.50" y="417.00" font-size="9.0" text-anchor="middle" fill="#231f20" stroke="#231f20">+/+</text>
<text x="126.90" y="417.00" font-size="9.0" text-anchor="middle" fill="#231f20" stroke="#231f20">+/-</text>
<text x="143.50" y="417.00" font-size="9.0" text-anchor="middle" fill="#231f20" stroke="#231f20">-/-</text>
<line x1="58.10" y1="423.00" x2="96.90" y2="423.00" stroke="#4e4e4e" stroke-width="1.5"/>
<text x="77.50" y="432.90" font-size="8.5" text-anchor="middle" fill="#231f20" stroke="#231f20">Hbb<tspan font-size="6.5" dy="-3.0" style="stroke-width:0.05px">th3/+</tspan></text>
<line x1="107.70" y1="423.00" x2="146.50" y2="423.00" stroke="#4e4e4e" stroke-width="1.5"/>
<text x="127.10" y="432.90" font-size="8.5" text-anchor="middle" fill="#231f20" stroke="#231f20">Hbb<tspan font-size="6.5" dy="-3.0" style="stroke-width:0.05px">th3/+</tspan></text>
<text x="16.40" y="367.45" font-size="10.3" text-anchor="middle" fill="#231f20" stroke="#231f20" transform="rotate(-90 16.40 367.45)" textLength="110.30" lengthAdjust="spacingAndGlyphs">LIC (μg iron/g dry weight)</text>
<circle cx="58.50" cy="392.30" r="1.4" fill="#c40a26" stroke="#1a0003" stroke-width="0.7"/>
<circle cx="62.40" cy="390.80" r="1.4" fill="#c40a26" stroke="#1a0003" stroke-width="0.7"/>
<circle cx="56.30" cy="394.40" r="1.4" fill="#c40a26" stroke="#1a0003" stroke-width="0.7"/>
<circle cx="60.50" cy="394.20" r="1.4" fill="#c40a26" stroke="#1a0003" stroke-width="0.7"/>
<circle cx="64.50" cy="393.00" r="1.4" fill="#c40a26" stroke="#1a0003" stroke-width="0.7"/>
<circle cx="56.30" cy="396.30" r="1.4" fill="#c40a26" stroke="#1a0003" stroke-width="0.7"/>
<circle cx="64.50" cy="396.30" r="1.4" fill="#c40a26" stroke="#1a0003" stroke-width="0.7"/>
<circle cx="60.50" cy="398.10" r="1.4" fill="#c40a26" stroke="#1a0003" stroke-width="0.7"/>
<line x1="60.40" y1="393.40" x2="60.40" y2="395.40" stroke="#111" stroke-width="1.0"/>
<line x1="57.00" y1="393.40" x2="63.80" y2="393.40" stroke="#111" stroke-width="1.0"/>
<line x1="57.00" y1="395.40" x2="63.80" y2="395.40" stroke="#111" stroke-width="1.0"/>
<line x1="54.80" y1="394.40" x2="66.00" y2="394.40" stroke="#000" stroke-width="1.25"/>
<circle cx="76.80" cy="386.00" r="1.45" fill="none" stroke="#6fb44e" stroke-width="0.8"/>
<circle cx="81.30" cy="388.50" r="1.45" fill="none" stroke="#6fb44e" stroke-width="0.8"/>
<circle cx="73.00" cy="390.10" r="1.45" fill="none" stroke="#6fb44e" stroke-width="0.8"/>
<circle cx="77.00" cy="391.00" r="1.45" fill="none" stroke="#6fb44e" stroke-width="0.8"/>
<circle cx="81.30" cy="393.90" r="1.45" fill="none" stroke="#6fb44e" stroke-width="0.8"/>
<circle cx="73.00" cy="393.90" r="1.45" fill="none" stroke="#6fb44e" stroke-width="0.8"/>
<circle cx="76.80" cy="397.10" r="1.45" fill="none" stroke="#6fb44e" stroke-width="0.8"/>
<line x1="77.20" y1="390.30" x2="77.20" y2="392.70" stroke="#111" stroke-width="1.0"/>
<line x1="73.80" y1="390.30" x2="80.60" y2="390.30" stroke="#111" stroke-width="1.0"/>
<line x1="73.80" y1="392.70" x2="80.60" y2="392.70" stroke="#111" stroke-width="1.0"/>
<line x1="71.60" y1="391.50" x2="82.80" y2="391.50" stroke="#000" stroke-width="1.25"/>
<circle cx="93.60" cy="353.90" r="1.4" fill="#123780" stroke="#0d2a66" stroke-width="0.25"/>
<circle cx="93.60" cy="364.10" r="1.4" fill="#123780" stroke="#0d2a66" stroke-width="0.25"/>
<circle cx="93.60" cy="368.40" r="1.4" fill="#123780" stroke="#0d2a66" stroke-width="0.25"/>
<circle cx="89.60" cy="373.80" r="1.4" fill="#123780" stroke="#0d2a66" stroke-width="0.25"/>
<circle cx="93.60" cy="374.10" r="1.4" fill="#123780" stroke="#0d2a66" stroke-width="0.25"/>
<circle cx="97.60" cy="378.50" r="1.4" fill="#123780" stroke="#0d2a66" stroke-width="0.25"/>
<circle cx="93.60" cy="380.00" r="1.4" fill="#123780" stroke="#0d2a66" stroke-width="0.25"/>
<circle cx="89.60" cy="385.00" r="1.4" fill="#123780" stroke="#0d2a66" stroke-width="0.25"/>
<circle cx="93.60" cy="385.20" r="1.4" fill="#123780" stroke="#0d2a66" stroke-width="0.25"/>
<circle cx="97.60" cy="384.00" r="1.4" fill="#123780" stroke="#0d2a66" stroke-width="0.25"/>
<circle cx="93.60" cy="390.50" r="1.4" fill="#123780" stroke="#0d2a66" stroke-width="0.25"/>
<line x1="93.80" y1="372.80" x2="93.80" y2="380.00" stroke="#111" stroke-width="1.0"/>
<line x1="90.40" y1="372.80" x2="97.20" y2="372.80" stroke="#111" stroke-width="1.0"/>
<line x1="90.40" y1="380.00" x2="97.20" y2="380.00" stroke="#111" stroke-width="1.0"/>
<line x1="88.20" y1="376.20" x2="99.40" y2="376.20" stroke="#000" stroke-width="1.25"/>
<circle cx="106.40" cy="390.70" r="1.4" fill="#c40a26" stroke="#1a0003" stroke-width="0.7"/>
<circle cx="110.60" cy="391.90" r="1.4" fill="#c40a26" stroke="#1a0003" stroke-width="0.7"/>
<circle cx="114.40" cy="390.70" r="1.4" fill="#c40a26" stroke="#1a0003" stroke-width="0.7"/>
<circle cx="106.40" cy="396.20" r="1.4" fill="#c40a26" stroke="#1a0003" stroke-width="0.7"/>
<circle cx="110.60" cy="394.50" r="1.4" fill="#c40a26" stroke="#1a0003" stroke-width="0.7"/>
<circle cx="114.40" cy="397.50" r="1.4" fill="#c40a26" stroke="#1a0003" stroke-width="0.7"/>
<circle cx="110.60" cy="399.10" r="1.4" fill="#c40a26" stroke="#1a0003" stroke-width="0.7"/>
<line x1="110.50" y1="393.40" x2="110.50" y2="395.60" stroke="#111" stroke-width="1.0"/>
<line x1="107.10" y1="393.40" x2="113.90" y2="393.40" stroke="#111" stroke-width="1.0"/>
<line x1="107.10" y1="395.60" x2="113.90" y2="395.60" stroke="#111" stroke-width="1.0"/>
<line x1="104.90" y1="394.50" x2="116.10" y2="394.50" stroke="#000" stroke-width="1.25"/>
<circle cx="127.00" cy="371.70" r="1.45" fill="none" stroke="#6fb44e" stroke-width="0.8"/>
<circle cx="131.00" cy="381.10" r="1.45" fill="none" stroke="#6fb44e" stroke-width="0.8"/>
<circle cx="122.80" cy="385.90" r="1.45" fill="none" stroke="#6fb44e" stroke-width="0.8"/>
<circle cx="127.00" cy="385.20" r="1.45" fill="none" stroke="#6fb44e" stroke-width="0.8"/>
<circle cx="127.00" cy="388.40" r="1.45" fill="none" stroke="#6fb44e" stroke-width="0.8"/>
<circle cx="122.80" cy="392.20" r="1.45" fill="none" stroke="#6fb44e" stroke-width="0.8"/>
<circle cx="127.00" cy="392.80" r="1.45" fill="none" stroke="#6fb44e" stroke-width="0.8"/>
<circle cx="131.00" cy="392.20" r="1.45" fill="none" stroke="#6fb44e" stroke-width="0.8"/>
<line x1="126.90" y1="383.60" x2="126.90" y2="389.00" stroke="#111" stroke-width="1.0"/>
<line x1="123.50" y1="383.60" x2="130.30" y2="383.60" stroke="#111" stroke-width="1.0"/>
<line x1="123.50" y1="389.00" x2="130.30" y2="389.00" stroke="#111" stroke-width="1.0"/>
<line x1="121.30" y1="386.10" x2="132.50" y2="386.10" stroke="#000" stroke-width="1.25"/>
<circle cx="139.60" cy="352.40" r="1.4" fill="#123780" stroke="#0d2a66" stroke-width="0.25"/>
<circle cx="143.70" cy="353.30" r="1.4" fill="#123780" stroke="#0d2a66" stroke-width="0.25"/>
<circle cx="147.70" cy="353.30" r="1.4" fill="#123780" stroke="#0d2a66" stroke-width="0.25"/>
<circle cx="143.70" cy="368.80" r="1.4" fill="#123780" stroke="#0d2a66" stroke-width="0.25"/>
<circle cx="147.70" cy="373.90" r="1.4" fill="#123780" stroke="#0d2a66" stroke-width="0.25"/>
<circle cx="143.70" cy="376.40" r="1.4" fill="#123780" stroke="#0d2a66" stroke-width="0.25"/>
<circle cx="139.60" cy="379.30" r="1.4" fill="#123780" stroke="#0d2a66" stroke-width="0.25"/>
<circle cx="143.70" cy="382.70" r="1.4" fill="#123780" stroke="#0d2a66" stroke-width="0.25"/>
<circle cx="143.70" cy="394.50" r="1.4" fill="#123780" stroke="#0d2a66" stroke-width="0.25"/>
<line x1="143.50" y1="365.40" x2="143.50" y2="375.10" stroke="#111" stroke-width="1.0"/>
<line x1="140.10" y1="365.40" x2="146.90" y2="365.40" stroke="#111" stroke-width="1.0"/>
<line x1="140.10" y1="375.10" x2="146.90" y2="375.10" stroke="#111" stroke-width="1.0"/>
<line x1="137.90" y1="370.50" x2="149.10" y2="370.50" stroke="#000" stroke-width="1.25"/>
<line x1="214.40" y1="334.40" x2="214.40" y2="403.70" stroke="#000" stroke-width="1.25"/>
<line x1="211.40" y1="337.20" x2="214.40" y2="337.20" stroke="#000" stroke-width="1.0"/>
<text x="208.00" y="339.90" font-size="7.8" text-anchor="end" fill="#231f20" stroke="#231f20">150</text>
<line x1="211.40" y1="359.20" x2="214.40" y2="359.20" stroke="#000" stroke-width="1.0"/>
<text x="208.00" y="361.90" font-size="7.8" text-anchor="end" fill="#231f20" stroke="#231f20">100</text>
<line x1="211.40" y1="381.30" x2="214.40" y2="381.30" stroke="#000" stroke-width="1.0"/>
<text x="208.00" y="384.00" font-size="7.8" text-anchor="end" fill="#231f20" stroke="#231f20">50</text>
<line x1="211.40" y1="403.20" x2="214.40" y2="403.20" stroke="#000" stroke-width="1.0"/>
<text x="208.00" y="405.90" font-size="7.8" text-anchor="end" fill="#231f20" stroke="#231f20">0</text>
<line x1="213.80" y1="403.20" x2="314.00" y2="403.20" stroke="#000" stroke-width="1.15"/>
<line x1="223.10" y1="403.20" x2="223.10" y2="406.20" stroke="#000" stroke-width="1.2"/>
<line x1="239.80" y1="403.20" x2="239.80" y2="406.20" stroke="#000" stroke-width="1.2"/>
<line x1="256.60" y1="403.20" x2="256.60" y2="406.20" stroke="#000" stroke-width="1.2"/>
<line x1="273.00" y1="403.20" x2="273.00" y2="406.20" stroke="#000" stroke-width="1.2"/>
<line x1="289.70" y1="403.20" x2="289.70" y2="406.20" stroke="#000" stroke-width="1.2"/>
<line x1="306.60" y1="403.20" x2="306.60" y2="406.20" stroke="#000" stroke-width="1.2"/>
<line x1="264.60" y1="404.80" x2="264.60" y2="338.00" stroke="#0c0c0c" stroke-width="1.1" stroke-dasharray="2.9,2.55"/>
<line x1="214.70" y1="385.60" x2="314.50" y2="385.60" stroke="#c0284e" stroke-width="1.1" stroke-dasharray="3.5,2.1"/>
<text x="318.00" y="388.20" font-size="8.0" fill="#c0284e" stroke="#c0284e">wt</text>
<text x="219.40" y="329.00" font-size="8.8" textLength="40.30" lengthAdjust="spacingAndGlyphs" fill="#231f20" stroke="#231f20" style="stroke-width:0.1px">10 week-old</text>
<text x="268.90" y="329.00" font-size="8.8" textLength="41.00" lengthAdjust="spacingAndGlyphs" fill="#231f20" stroke="#231f20" style="stroke-width:0.1px">37 week-old</text>
<line x1="222.60" y1="342.20" x2="256.40" y2="342.20" stroke="#353535" stroke-width="1.3"/>
<circle cx="236.22" cy="338.30" r="1.08" fill="#3a3a3a"/>
<circle cx="239.50" cy="338.30" r="1.08" fill="#3a3a3a"/>
<circle cx="242.78" cy="338.30" r="1.08" fill="#3a3a3a"/>
<line x1="222.60" y1="349.10" x2="239.00" y2="349.10" stroke="#353535" stroke-width="1.3"/>
<circle cx="230.80" cy="345.20" r="1.08" fill="#3a3a3a"/>
<line x1="240.80" y1="349.10" x2="256.40" y2="349.10" stroke="#353535" stroke-width="1.3"/>
<circle cx="248.60" cy="345.20" r="1.08" fill="#3a3a3a"/>
<line x1="270.20" y1="342.00" x2="304.70" y2="342.00" stroke="#353535" stroke-width="1.3"/>
<circle cx="284.17" cy="338.10" r="1.08" fill="#3a3a3a"/>
<circle cx="287.45" cy="338.10" r="1.08" fill="#3a3a3a"/>
<circle cx="290.73" cy="338.10" r="1.08" fill="#3a3a3a"/>
<line x1="288.30" y1="349.40" x2="304.90" y2="349.40" stroke="#353535" stroke-width="1.3"/>
<circle cx="293.32" cy="345.50" r="1.08" fill="#3a3a3a"/>
<circle cx="296.60" cy="345.50" r="1.08" fill="#3a3a3a"/>
<circle cx="299.88" cy="345.50" r="1.08" fill="#3a3a3a"/>
<text x="179.90" y="314.90" font-size="11.8" textLength="5.60" lengthAdjust="spacingAndGlyphs" fill="#231f20" stroke="#231f20" style="stroke-width:0.3px">F</text>
<text x="194.80" y="417.00" font-size="8.3" textLength="12.90" lengthAdjust="spacingAndGlyphs" fill="#231f20" stroke="#231f20">Tfr2</text>
<text x="223.10" y="417.00" font-size="9.0" text-anchor="middle" fill="#231f20" stroke="#231f20">+/+</text>
<text x="239.80" y="417.00" font-size="9.0" text-anchor="middle" fill="#231f20" stroke="#231f20">+/-</text>
<text x="256.60" y="417.00" font-size="9.0" text-anchor="middle" fill="#231f20" stroke="#231f20">-/-</text>
<text x="273.00" y="417.00" font-size="9.0" text-anchor="middle" fill="#231f20" stroke="#231f20">+/+</text>
<text x="289.70" y="417.00" font-size="9.0" text-anchor="middle" fill="#231f20" stroke="#231f20">+/-</text>
<text x="306.60" y="417.00" font-size="9.0" text-anchor="middle" fill="#231f20" stroke="#231f20">-/-</text>
<line x1="220.50" y1="423.00" x2="258.60" y2="423.00" stroke="#4e4e4e" stroke-width="1.5"/>
<text x="239.55" y="433.00" font-size="8.5" text-anchor="middle" fill="#231f20" stroke="#231f20">Hbb<tspan font-size="6.5" dy="-3.0" style="stroke-width:0.05px">th3/+</tspan></text>
<line x1="270.30" y1="423.00" x2="308.80" y2="423.00" stroke="#4e4e4e" stroke-width="1.5"/>
<text x="289.55" y="433.00" font-size="8.5" text-anchor="middle" fill="#231f20" stroke="#231f20">Hbb<tspan font-size="6.5" dy="-3.0" style="stroke-width:0.05px">th3/+</tspan></text>
<text x="188.30" y="368.90" font-size="10.0" text-anchor="middle" fill="#231f20" stroke="#231f20" transform="rotate(-90 188.30 368.90)" textLength="105.40" lengthAdjust="spacingAndGlyphs">Transferrin saturation (%)</text>
<circle cx="223.30" cy="378.20" r="1.4" fill="#c40a26" stroke="#1a0003" stroke-width="0.7"/>
<circle cx="219.10" cy="385.70" r="1.4" fill="#c40a26" stroke="#1a0003" stroke-width="0.7"/>
<circle cx="223.30" cy="384.40" r="1.4" fill="#c40a26" stroke="#1a0003" stroke-width="0.7"/>
<circle cx="227.30" cy="385.70" r="1.4" fill="#c40a26" stroke="#1a0003" stroke-width="0.7"/>
<circle cx="221.20" cy="386.80" r="1.4" fill="#c40a26" stroke="#1a0003" stroke-width="0.7"/>
<circle cx="223.30" cy="387.20" r="1.4" fill="#c40a26" stroke="#1a0003" stroke-width="0.7"/>
<circle cx="227.30" cy="387.20" r="1.4" fill="#c40a26" stroke="#1a0003" stroke-width="0.7"/>
<line x1="223.10" y1="384.60" x2="223.10" y2="386.00" stroke="#111" stroke-width="1.0"/>
<line x1="219.70" y1="384.60" x2="226.50" y2="384.60" stroke="#111" stroke-width="1.0"/>
<line x1="219.70" y1="386.00" x2="226.50" y2="386.00" stroke="#111" stroke-width="1.0"/>
<line x1="217.50" y1="385.30" x2="228.70" y2="385.30" stroke="#000" stroke-width="1.25"/>
<circle cx="239.70" cy="367.70" r="1.45" fill="none" stroke="#6fb44e" stroke-width="0.8"/>
<circle cx="236.00" cy="374.40" r="1.45" fill="none" stroke="#6fb44e" stroke-width="0.8"/>
<circle cx="241.70" cy="372.90" r="1.45" fill="none" stroke="#6fb44e" stroke-width="0.8"/>
<circle cx="239.70" cy="375.60" r="1.45" fill="none" stroke="#6fb44e" stroke-width="0.8"/>
<circle cx="243.60" cy="375.10" r="1.45" fill="none" stroke="#6fb44e" stroke-width="0.8"/>
<circle cx="239.70" cy="382.30" r="1.45" fill="none" stroke="#6fb44e" stroke-width="0.8"/>
<circle cx="239.70" cy="390.00" r="1.45" fill="none" stroke="#6fb44e" stroke-width="0.8"/>
<line x1="239.80" y1="374.40" x2="239.80" y2="380.10" stroke="#111" stroke-width="1.0"/>
<line x1="236.40" y1="374.40" x2="243.20" y2="374.40" stroke="#111" stroke-width="1.0"/>
<line x1="236.40" y1="380.10" x2="243.20" y2="380.10" stroke="#111" stroke-width="1.0"/>
<line x1="234.20" y1="377.40" x2="245.40" y2="377.40" stroke="#000" stroke-width="1.25"/>
<circle cx="256.30" cy="352.20" r="1.4" fill="#123780" stroke="#0d2a66" stroke-width="0.25"/>
<circle cx="252.40" cy="361.20" r="1.4" fill="#123780" stroke="#0d2a66" stroke-width="0.25"/>
<circle cx="256.30" cy="364.10" r="1.4" fill="#123780" stroke="#0d2a66" stroke-width="0.25"/>
<circle cx="258.60" cy="366.90" r="1.4" fill="#123780" stroke="#0d2a66" stroke-width="0.25"/>
<circle cx="252.40" cy="369.70" r="1.4" fill="#123780" stroke="#0d2a66" stroke-width="0.25"/>
<circle cx="256.30" cy="369.90" r="1.4" fill="#123780" stroke="#0d2a66" stroke-width="0.25"/>
<circle cx="260.30" cy="369.90" r="1.4" fill="#123780" stroke="#0d2a66" stroke-width="0.25"/>
<circle cx="252.40" cy="374.40" r="1.4" fill="#123780" stroke="#0d2a66" stroke-width="0.25"/>
<circle cx="256.30" cy="375.60" r="1.4" fill="#123780" stroke="#0d2a66" stroke-width="0.25"/>
<circle cx="256.30" cy="380.40" r="1.4" fill="#123780" stroke="#0d2a66" stroke-width="0.25"/>
<line x1="256.60" y1="365.80" x2="256.60" y2="370.60" stroke="#111" stroke-width="1.0"/>
<line x1="253.20" y1="365.80" x2="260.00" y2="365.80" stroke="#111" stroke-width="1.0"/>
<line x1="253.20" y1="370.60" x2="260.00" y2="370.60" stroke="#111" stroke-width="1.0"/>
<line x1="251.00" y1="368.30" x2="262.20" y2="368.30" stroke="#000" stroke-width="1.25"/>
<circle cx="268.70" cy="377.60" r="1.4" fill="#c40a26" stroke="#1a0003" stroke-width="0.7"/>
<circle cx="277.30" cy="376.50" r="1.4" fill="#c40a26" stroke="#1a0003" stroke-width="0.7"/>
<circle cx="273.00" cy="380.10" r="1.4" fill="#c40a26" stroke="#1a0003" stroke-width="0.7"/>
<circle cx="268.70" cy="383.50" r="1.4" fill="#c40a26" stroke="#1a0003" stroke-width="0.7"/>
<circle cx="274.70" cy="385.70" r="1.4" fill="#c40a26" stroke="#1a0003" stroke-width="0.7"/>
<circle cx="268.70" cy="388.30" r="1.4" fill="#c40a26" stroke="#1a0003" stroke-width="0.7"/>
<circle cx="273.00" cy="389.10" r="1.4" fill="#c40a26" stroke="#1a0003" stroke-width="0.7"/>
<circle cx="277.30" cy="388.30" r="1.4" fill="#c40a26" stroke="#1a0003" stroke-width="0.7"/>
<line x1="273.00" y1="381.20" x2="273.00" y2="385.70" stroke="#111" stroke-width="1.0"/>
<line x1="269.60" y1="381.20" x2="276.40" y2="381.20" stroke="#111" stroke-width="1.0"/>
<line x1="269.60" y1="385.70" x2="276.40" y2="385.70" stroke="#111" stroke-width="1.0"/>
<line x1="267.40" y1="383.50" x2="278.60" y2="383.50" stroke="#000" stroke-width="1.25"/>
<circle cx="287.70" cy="372.90" r="1.45" fill="none" stroke="#6fb44e" stroke-width="0.8"/>
<circle cx="293.60" cy="372.90" r="1.45" fill="none" stroke="#6fb44e" stroke-width="0.8"/>
<circle cx="285.20" cy="375.60" r="1.45" fill="none" stroke="#6fb44e" stroke-width="0.8"/>
<circle cx="289.70" cy="375.60" r="1.45" fill="none" stroke="#6fb44e" stroke-width="0.8"/>
<circle cx="293.60" cy="379.60" r="1.45" fill="none" stroke="#6fb44e" stroke-width="0.8"/>
<circle cx="285.20" cy="381.90" r="1.45" fill="none" stroke="#6fb44e" stroke-width="0.8"/>
<circle cx="289.70" cy="382.00" r="1.45" fill="none" stroke="#6fb44e" stroke-width="0.8"/>
<circle cx="287.70" cy="384.90" r="1.45" fill="none" stroke="#6fb44e" stroke-width="0.8"/>
<circle cx="291.70" cy="384.60" r="1.45" fill="none" stroke="#6fb44e" stroke-width="0.8"/>
<circle cx="285.20" cy="388.00" r="1.45" fill="none" stroke="#6fb44e" stroke-width="0.8"/>
<circle cx="289.70" cy="388.00" r="1.45" fill="none" stroke="#6fb44e" stroke-width="0.8"/>
<circle cx="293.60" cy="389.80" r="1.45" fill="none" stroke="#6fb44e" stroke-width="0.8"/>
<circle cx="289.70" cy="390.60" r="1.45" fill="none" stroke="#6fb44e" stroke-width="0.8"/>
<line x1="289.70" y1="380.40" x2="289.70" y2="383.80" stroke="#111" stroke-width="1.0"/>
<line x1="286.30" y1="380.40" x2="293.10" y2="380.40" stroke="#111" stroke-width="1.0"/>
<line x1="286.30" y1="383.80" x2="293.10" y2="383.80" stroke="#111" stroke-width="1.0"/>
<line x1="284.10" y1="382.30" x2="295.30" y2="382.30" stroke="#000" stroke-width="1.25"/>
<circle cx="308.20" cy="352.80" r="1.4" fill="#123780" stroke="#0d2a66" stroke-width="0.25"/>
<circle cx="302.40" cy="355.90" r="1.4" fill="#123780" stroke="#0d2a66" stroke-width="0.25"/>
<circle cx="306.00" cy="356.70" r="1.4" fill="#123780" stroke="#0d2a66" stroke-width="0.25"/>
<circle cx="310.00" cy="355.90" r="1.4" fill="#123780" stroke="#0d2a66" stroke-width="0.25"/>
<circle cx="302.40" cy="359.30" r="1.4" fill="#123780" stroke="#0d2a66" stroke-width="0.25"/>
<circle cx="306.00" cy="361.20" r="1.4" fill="#123780" stroke="#0d2a66" stroke-width="0.25"/>
<circle cx="310.00" cy="364.60" r="1.4" fill="#123780" stroke="#0d2a66" stroke-width="0.25"/>
<circle cx="306.00" cy="368.60" r="1.4" fill="#123780" stroke="#0d2a66" stroke-width="0.25"/>
<circle cx="302.40" cy="372.20" r="1.4" fill="#123780" stroke="#0d2a66" stroke-width="0.25"/>
<circle cx="306.00" cy="373.30" r="1.4" fill="#123780" stroke="#0d2a66" stroke-width="0.25"/>
<circle cx="306.00" cy="378.70" r="1.4" fill="#123780" stroke="#0d2a66" stroke-width="0.25"/>
<line x1="306.60" y1="360.90" x2="306.60" y2="366.10" stroke="#111" stroke-width="1.0"/>
<line x1="303.20" y1="360.90" x2="310.00" y2="360.90" stroke="#111" stroke-width="1.0"/>
<line x1="303.20" y1="366.10" x2="310.00" y2="366.10" stroke="#111" stroke-width="1.0"/>
<line x1="301.00" y1="363.50" x2="312.20" y2="363.50" stroke="#000" stroke-width="1.25"/>
<line x1="387.20" y1="332.10" x2="387.20" y2="403.60" stroke="#000" stroke-width="1.25"/>
<line x1="384.20" y1="334.90" x2="387.20" y2="334.90" stroke="#000" stroke-width="1.0"/>
<text x="380.60" y="337.60" font-size="7.8" text-anchor="end" fill="#231f20" stroke="#231f20">20000</text>
<line x1="384.20" y1="352.00" x2="387.20" y2="352.00" stroke="#000" stroke-width="1.0"/>
<text x="380.60" y="354.70" font-size="7.8" text-anchor="end" fill="#231f20" stroke="#231f20">15000</text>
<line x1="384.20" y1="369.10" x2="387.20" y2="369.10" stroke="#000" stroke-width="1.0"/>
<text x="380.60" y="371.80" font-size="7.8" text-anchor="end" fill="#231f20" stroke="#231f20">10000</text>
<line x1="384.20" y1="386.10" x2="387.20" y2="386.10" stroke="#000" stroke-width="1.0"/>
<text x="380.60" y="388.80" font-size="7.8" text-anchor="end" fill="#231f20" stroke="#231f20">5000</text>
<line x1="384.20" y1="403.10" x2="387.20" y2="403.10" stroke="#000" stroke-width="1.0"/>
<text x="380.60" y="405.80" font-size="7.8" text-anchor="end" fill="#231f20" stroke="#231f20">0</text>
<line x1="386.60" y1="403.10" x2="489.30" y2="403.10" stroke="#000" stroke-width="1.15"/>
<line x1="395.70" y1="403.10" x2="395.70" y2="406.10" stroke="#000" stroke-width="1.2"/>
<line x1="412.40" y1="403.10" x2="412.40" y2="406.10" stroke="#000" stroke-width="1.2"/>
<line x1="429.10" y1="403.10" x2="429.10" y2="406.10" stroke="#000" stroke-width="1.2"/>
<line x1="447.00" y1="403.10" x2="447.00" y2="406.10" stroke="#000" stroke-width="1.2"/>
<line x1="464.20" y1="403.10" x2="464.20" y2="406.10" stroke="#000" stroke-width="1.2"/>
<line x1="481.20" y1="403.10" x2="481.20" y2="406.10" stroke="#000" stroke-width="1.2"/>
<line x1="438.30" y1="404.70" x2="438.30" y2="336.00" stroke="#0c0c0c" stroke-width="1.1" stroke-dasharray="2.9,2.55"/>
<line x1="387.50" y1="396.40" x2="488.80" y2="396.40" stroke="#c0284e" stroke-width="1.1" stroke-dasharray="3.5,2.1"/>
<text x="493.00" y="399.00" font-size="8.0" fill="#c0284e" stroke="#c0284e">wt</text>
<text x="393.10" y="329.30" font-size="8.8" textLength="40.30" lengthAdjust="spacingAndGlyphs" fill="#231f20" stroke="#231f20" style="stroke-width:0.1px">10 week-old</text>
<text x="443.80" y="329.30" font-size="8.8" textLength="40.30" lengthAdjust="spacingAndGlyphs" fill="#231f20" stroke="#231f20" style="stroke-width:0.1px">37 week-old</text>
<text x="342.40" y="315.00" font-size="11.8" textLength="7.30" lengthAdjust="spacingAndGlyphs" fill="#231f20" stroke="#231f20" style="stroke-width:0.3px">G</text>
<text x="366.70" y="417.00" font-size="8.3" textLength="13.90" lengthAdjust="spacingAndGlyphs" fill="#231f20" stroke="#231f20">Tfr2</text>
<text x="395.70" y="417.00" font-size="9.0" text-anchor="middle" fill="#231f20" stroke="#231f20">+/+</text>
<text x="412.40" y="417.00" font-size="9.0" text-anchor="middle" fill="#231f20" stroke="#231f20">+/-</text>
<text x="429.10" y="417.00" font-size="9.0" text-anchor="middle" fill="#231f20" stroke="#231f20">-/-</text>
<text x="447.00" y="417.00" font-size="9.0" text-anchor="middle" fill="#231f20" stroke="#231f20">+/+</text>
<text x="464.20" y="417.00" font-size="9.0" text-anchor="middle" fill="#231f20" stroke="#231f20">+/-</text>
<text x="481.20" y="417.00" font-size="9.0" text-anchor="middle" fill="#231f20" stroke="#231f20">-/-</text>
<line x1="393.10" y1="423.00" x2="431.90" y2="423.00" stroke="#4e4e4e" stroke-width="1.5"/>
<text x="412.50" y="432.60" font-size="8.5" text-anchor="middle" fill="#231f20" stroke="#231f20">Hbb<tspan font-size="6.5" dy="-3.0" style="stroke-width:0.05px">th3/+</tspan></text>
<line x1="445.30" y1="423.00" x2="484.70" y2="423.00" stroke="#4e4e4e" stroke-width="1.5"/>
<text x="465.00" y="432.60" font-size="8.5" text-anchor="middle" fill="#231f20" stroke="#231f20">Hbb<tspan font-size="6.5" dy="-3.0" style="stroke-width:0.05px">th3/+</tspan></text>
<text x="351.30" y="367.80" font-size="10.0" text-anchor="middle" fill="#231f20" stroke="#231f20" transform="rotate(-90 351.30 367.80)" textLength="109.00" lengthAdjust="spacingAndGlyphs">SIC (μg iron/g dry weight)</text>
<circle cx="395.70" cy="360.40" r="1.4" fill="#c40a26" stroke="#1a0003" stroke-width="0.7"/>
<circle cx="391.60" cy="365.60" r="1.4" fill="#c40a26" stroke="#1a0003" stroke-width="0.7"/>
<circle cx="395.70" cy="368.10" r="1.4" fill="#c40a26" stroke="#1a0003" stroke-width="0.7"/>
<circle cx="399.70" cy="367.50" r="1.4" fill="#c40a26" stroke="#1a0003" stroke-width="0.7"/>
<circle cx="395.70" cy="373.20" r="1.4" fill="#c40a26" stroke="#1a0003" stroke-width="0.7"/>
<circle cx="391.60" cy="383.90" r="1.4" fill="#c40a26" stroke="#1a0003" stroke-width="0.7"/>
<circle cx="395.70" cy="387.50" r="1.4" fill="#c40a26" stroke="#1a0003" stroke-width="0.7"/>
<circle cx="399.70" cy="387.10" r="1.4" fill="#c40a26" stroke="#1a0003" stroke-width="0.7"/>
<line x1="395.70" y1="370.30" x2="395.70" y2="378.20" stroke="#111" stroke-width="1.0"/>
<line x1="392.30" y1="370.30" x2="399.10" y2="370.30" stroke="#111" stroke-width="1.0"/>
<line x1="392.30" y1="378.20" x2="399.10" y2="378.20" stroke="#111" stroke-width="1.0"/>
<line x1="390.10" y1="374.30" x2="401.30" y2="374.30" stroke="#000" stroke-width="1.25"/>
<circle cx="412.70" cy="354.50" r="1.45" fill="none" stroke="#6fb44e" stroke-width="0.8"/>
<circle cx="412.70" cy="365.60" r="1.45" fill="none" stroke="#6fb44e" stroke-width="0.8"/>
<circle cx="417.20" cy="370.10" r="1.45" fill="none" stroke="#6fb44e" stroke-width="0.8"/>
<circle cx="408.50" cy="379.60" r="1.45" fill="none" stroke="#6fb44e" stroke-width="0.8"/>
<circle cx="412.70" cy="380.30" r="1.45" fill="none" stroke="#6fb44e" stroke-width="0.8"/>
<circle cx="412.70" cy="388.60" r="1.45" fill="none" stroke="#6fb44e" stroke-width="0.8"/>
<line x1="412.60" y1="368.60" x2="412.60" y2="377.30" stroke="#111" stroke-width="1.0"/>
<line x1="409.20" y1="368.60" x2="416.00" y2="368.60" stroke="#111" stroke-width="1.0"/>
<line x1="409.20" y1="377.30" x2="416.00" y2="377.30" stroke="#111" stroke-width="1.0"/>
<line x1="407.00" y1="373.40" x2="418.20" y2="373.40" stroke="#000" stroke-width="1.25"/>
<circle cx="430.00" cy="359.30" r="1.4" fill="#123780" stroke="#0d2a66" stroke-width="0.25"/>
<circle cx="425.70" cy="364.50" r="1.4" fill="#123780" stroke="#0d2a66" stroke-width="0.25"/>
<circle cx="430.00" cy="365.60" r="1.4" fill="#123780" stroke="#0d2a66" stroke-width="0.25"/>
<circle cx="434.20" cy="363.80" r="1.4" fill="#123780" stroke="#0d2a66" stroke-width="0.25"/>
<circle cx="434.20" cy="377.30" r="1.4" fill="#123780" stroke="#0d2a66" stroke-width="0.25"/>
<circle cx="430.00" cy="379.20" r="1.4" fill="#123780" stroke="#0d2a66" stroke-width="0.25"/>
<circle cx="425.70" cy="382.80" r="1.4" fill="#123780" stroke="#0d2a66" stroke-width="0.25"/>
<circle cx="430.00" cy="383.90" r="1.4" fill="#123780" stroke="#0d2a66" stroke-width="0.25"/>
<circle cx="425.70" cy="390.30" r="1.4" fill="#123780" stroke="#0d2a66" stroke-width="0.25"/>
<circle cx="430.00" cy="392.40" r="1.4" fill="#123780" stroke="#0d2a66" stroke-width="0.25"/>
<circle cx="434.20" cy="392.40" r="1.4" fill="#123780" stroke="#0d2a66" stroke-width="0.25"/>
<line x1="430.00" y1="373.50" x2="430.00" y2="381.10" stroke="#111" stroke-width="1.0"/>
<line x1="426.60" y1="373.50" x2="433.40" y2="373.50" stroke="#111" stroke-width="1.0"/>
<line x1="426.60" y1="381.10" x2="433.40" y2="381.10" stroke="#111" stroke-width="1.0"/>
<line x1="424.40" y1="377.30" x2="435.60" y2="377.30" stroke="#000" stroke-width="1.25"/>
<circle cx="446.80" cy="372.80" r="1.4" fill="#c40a26" stroke="#1a0003" stroke-width="0.7"/>
<circle cx="444.70" cy="375.80" r="1.4" fill="#c40a26" stroke="#1a0003" stroke-width="0.7"/>
<circle cx="450.80" cy="377.10" r="1.4" fill="#c40a26" stroke="#1a0003" stroke-width="0.7"/>
<circle cx="442.30" cy="377.90" r="1.4" fill="#c40a26" stroke="#1a0003" stroke-width="0.7"/>
<circle cx="446.80" cy="378.60" r="1.4" fill="#c40a26" stroke="#1a0003" stroke-width="0.7"/>
<circle cx="446.80" cy="383.10" r="1.4" fill="#c40a26" stroke="#1a0003" stroke-width="0.7"/>
<line x1="446.80" y1="376.90" x2="446.80" y2="378.90" stroke="#111" stroke-width="1.0"/>
<line x1="443.40" y1="376.90" x2="450.20" y2="376.90" stroke="#111" stroke-width="1.0"/>
<line x1="443.40" y1="378.90" x2="450.20" y2="378.90" stroke="#111" stroke-width="1.0"/>
<line x1="441.20" y1="377.90" x2="452.40" y2="377.90" stroke="#000" stroke-width="1.25"/>
<circle cx="463.80" cy="349.90" r="1.45" fill="none" stroke="#6fb44e" stroke-width="0.8"/>
<circle cx="463.80" cy="357.20" r="1.45" fill="none" stroke="#6fb44e" stroke-width="0.8"/>
<circle cx="463.80" cy="361.20" r="1.45" fill="none" stroke="#6fb44e" stroke-width="0.8"/>
<circle cx="468.20" cy="370.10" r="1.45" fill="none" stroke="#6fb44e" stroke-width="0.8"/>
<circle cx="459.70" cy="375.80" r="1.45" fill="none" stroke="#6fb44e" stroke-width="0.8"/>
<circle cx="463.80" cy="377.70" r="1.45" fill="none" stroke="#6fb44e" stroke-width="0.8"/>
<circle cx="463.80" cy="390.50" r="1.45" fill="none" stroke="#6fb44e" stroke-width="0.8"/>
<line x1="464.00" y1="364.90" x2="464.00" y2="373.00" stroke="#111" stroke-width="1.0"/>
<line x1="460.60" y1="364.90" x2="467.40" y2="364.90" stroke="#111" stroke-width="1.0"/>
<line x1="460.60" y1="373.00" x2="467.40" y2="373.00" stroke="#111" stroke-width="1.0"/>
<line x1="458.40" y1="368.90" x2="469.60" y2="368.90" stroke="#000" stroke-width="1.25"/>
<circle cx="477.00" cy="355.10" r="1.4" fill="#123780" stroke="#0d2a66" stroke-width="0.25"/>
<circle cx="480.90" cy="355.10" r="1.4" fill="#123780" stroke="#0d2a66" stroke-width="0.25"/>
<circle cx="480.90" cy="362.40" r="1.4" fill="#123780" stroke="#0d2a66" stroke-width="0.25"/>
<circle cx="485.30" cy="360.90" r="1.4" fill="#123780" stroke="#0d2a66" stroke-width="0.25"/>
<circle cx="477.00" cy="380.70" r="1.4" fill="#123780" stroke="#0d2a66" stroke-width="0.25"/>
<circle cx="480.90" cy="382.30" r="1.4" fill="#123780" stroke="#0d2a66" stroke-width="0.25"/>
<circle cx="485.30" cy="379.10" r="1.4" fill="#123780" stroke="#0d2a66" stroke-width="0.25"/>
<circle cx="480.90" cy="396.90" r="1.4" fill="#123780" stroke="#0d2a66" stroke-width="0.25"/>
<circle cx="485.30" cy="395.30" r="1.4" fill="#123780" stroke="#0d2a66" stroke-width="0.25"/>
<line x1="480.90" y1="368.50" x2="480.90" y2="379.10" stroke="#111" stroke-width="1.0"/>
<line x1="477.50" y1="368.50" x2="484.30" y2="368.50" stroke="#111" stroke-width="1.0"/>
<line x1="477.50" y1="379.10" x2="484.30" y2="379.10" stroke="#111" stroke-width="1.0"/>
<line x1="475.30" y1="374.30" x2="486.50" y2="374.30" stroke="#000" stroke-width="1.25"/>
<rect x="0" y="0" width="520" height="1.1" fill="#0a0a0a"/>
<rect x="0" y="0" width="1.3" height="443" fill="#0a0a0a"/>
<rect x="518.6" y="0" width="1.4" height="443" fill="#0a0a0a"/>
<rect x="0" y="441.0" width="520" height="2" fill="#0a0a0a"/>
</svg>
</body></html>
